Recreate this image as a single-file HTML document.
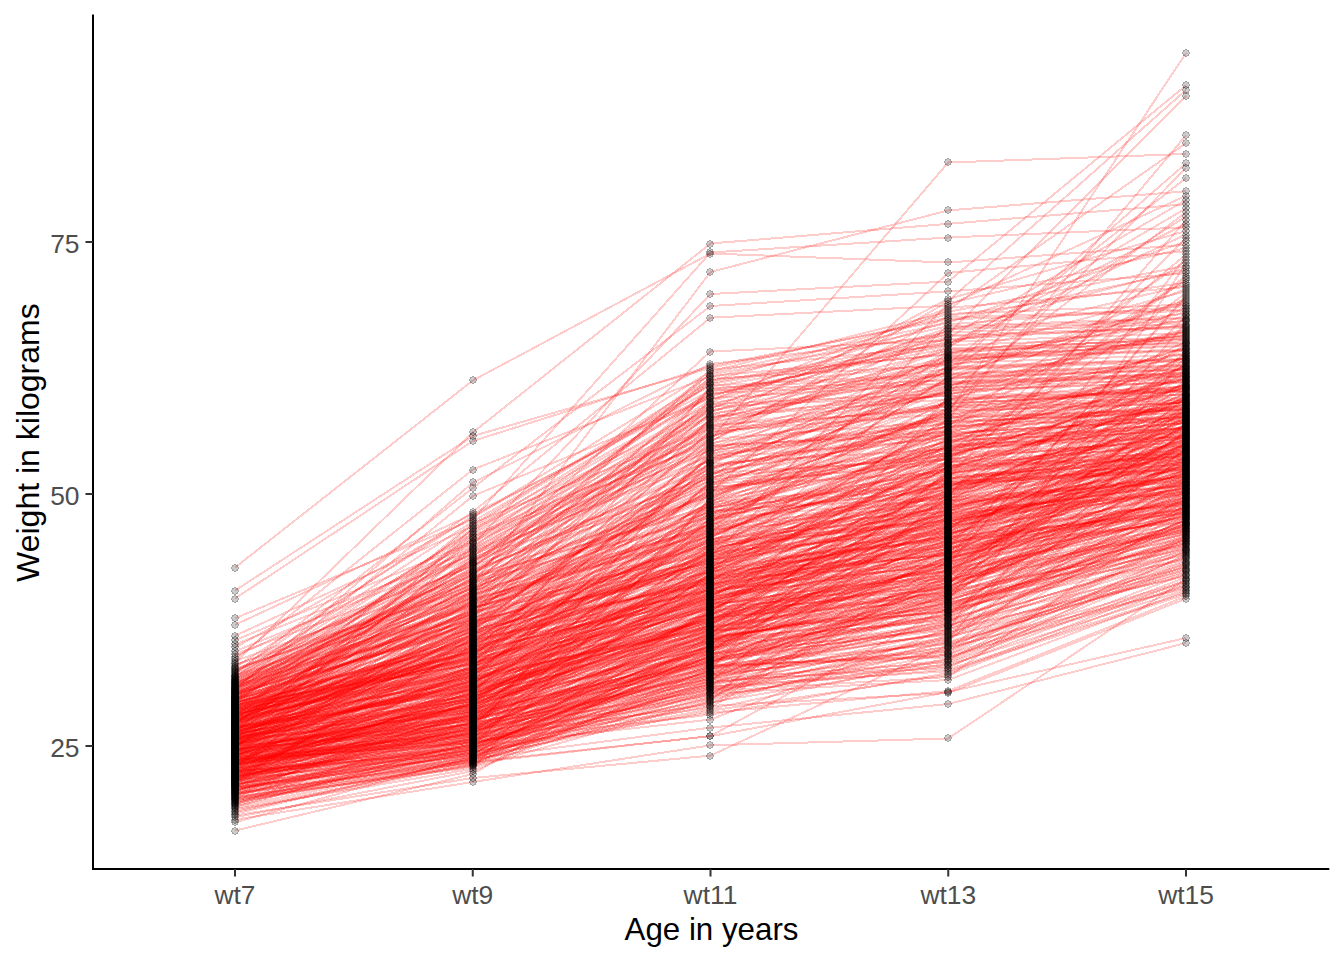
<!DOCTYPE html>
<html><head><meta charset="utf-8"><style>
html,body{margin:0;padding:0;background:#fff;width:1344px;height:960px;overflow:hidden}
svg{display:block}
circle{r:3.5px}
text{font-family:"Liberation Sans",sans-serif}
</style></head><body>
<svg width="1344" height="960" viewBox="0 0 1344 960">
<rect width="1344" height="960" fill="#fff"/>
<g><g fill="none" stroke="#ff0000" stroke-opacity="0.2" stroke-width="2.0" shape-rendering="crispEdges"><polyline points="235.0,792.7 472.8,761.8 710.5,736.2 948.2,692.0 1186.0,638.0"/><polyline points="235.0,783.0 472.8,685.5 710.5,632.5 948.2,524.2 1186.0,396.0"/><polyline points="235.0,772.7 472.8,749.8 710.5,698.9 948.2,574.0 1186.0,433.4"/><polyline points="235.0,745.3 472.8,640.3 710.5,591.5 948.2,534.2 1186.0,465.5"/><polyline points="235.0,790.8 472.8,738.8 710.5,664.8 948.2,644.1 1186.0,571.2"/><polyline points="235.0,765.9 472.8,639.0 710.5,555.7 948.2,500.7 1186.0,480.3"/><polyline points="235.0,766.1 472.8,683.1 710.5,572.1 948.2,529.0 1186.0,439.1"/><polyline points="235.0,712.7 472.8,642.4 710.5,577.0 948.2,547.2 1186.0,316.3"/><polyline points="235.0,701.3 472.8,559.6 710.5,477.9 948.2,401.0 1186.0,314.9"/><polyline points="235.0,731.2 472.8,689.9 710.5,533.0 948.2,451.5 1186.0,422.8"/><polyline points="235.0,745.5 472.8,657.8 710.5,615.0 948.2,575.5 1186.0,475.3"/><polyline points="235.0,665.9 472.8,565.4 710.5,481.6 948.2,425.9 1186.0,260.3"/><polyline points="235.0,760.2 472.8,743.1 710.5,696.0 948.2,661.0 1186.0,550.4"/><polyline points="235.0,762.2 472.8,708.5 710.5,617.9 948.2,595.5 1186.0,513.9"/><polyline points="235.0,692.7 472.8,568.1 710.5,351.5 948.2,340.5 1186.0,313.6"/><polyline points="235.0,706.2 472.8,642.0 710.5,467.4 948.2,426.6 1186.0,418.3"/><polyline points="235.0,746.7 472.8,674.4 710.5,608.8 948.2,466.6 1186.0,416.7"/><polyline points="235.0,762.6 472.8,704.0 710.5,480.7 948.2,379.5 1186.0,289.1"/><polyline points="235.0,802.3 472.8,743.5 710.5,611.3 948.2,466.0 1186.0,457.7"/><polyline points="235.0,694.6 472.8,614.6 710.5,486.9 948.2,472.0 1186.0,398.4"/><polyline points="235.0,791.2 472.8,713.9 710.5,523.3 948.2,410.7 1186.0,402.7"/><polyline points="235.0,748.0 472.8,714.2 710.5,605.8 948.2,503.2 1186.0,476.9"/><polyline points="235.0,716.6 472.8,636.9 710.5,564.2 948.2,513.6 1186.0,493.9"/><polyline points="235.0,678.6 472.8,576.5 710.5,373.0 948.2,322.9 1186.0,241.4"/><polyline points="235.0,689.0 472.8,569.0 710.5,449.4 948.2,391.8 1186.0,330.1"/><polyline points="235.0,740.4 472.8,692.8 710.5,632.9 948.2,594.9 1186.0,458.6"/><polyline points="235.0,684.8 472.8,603.9 710.5,524.0 948.2,477.9 1186.0,464.7"/><polyline points="235.0,715.2 472.8,621.1 710.5,562.7 948.2,504.2 1186.0,429.7"/><polyline points="235.0,764.1 472.8,734.6 710.5,685.2 948.2,592.7 1186.0,486.8"/><polyline points="235.0,725.5 472.8,649.9 710.5,598.2 948.2,452.1 1186.0,427.3"/><polyline points="235.0,714.5 472.8,662.0 710.5,465.5 948.2,431.0 1186.0,401.7"/><polyline points="235.0,696.1 472.8,602.8 710.5,531.2 948.2,467.7 1186.0,374.4"/><polyline points="235.0,712.2 472.8,669.0 710.5,609.2 948.2,580.8 1186.0,534.4"/><polyline points="235.0,792.3 472.8,757.1 710.5,710.7 948.2,674.9 1186.0,584.1"/><polyline points="235.0,795.3 472.8,699.9 710.5,549.9 948.2,493.1 1186.0,410.7"/><polyline points="235.0,678.0 472.8,562.6 710.5,380.2 948.2,353.7 1186.0,336.1"/><polyline points="235.0,755.2 472.8,705.0 710.5,621.3 948.2,580.3 1186.0,510.9"/><polyline points="235.0,740.2 472.8,545.6 710.5,415.9 948.2,395.2 1186.0,331.2"/><polyline points="235.0,715.9 472.8,650.3 710.5,573.0 948.2,356.6 1186.0,346.0"/><polyline points="235.0,802.9 472.8,761.3 710.5,645.7 948.2,603.5 1186.0,541.4"/><polyline points="235.0,753.0 472.8,708.8 710.5,569.8 948.2,495.6 1186.0,414.6"/><polyline points="235.0,659.1 472.8,469.6 710.5,376.0 948.2,354.7 1186.0,291.2"/><polyline points="235.0,724.8 472.8,583.2 710.5,393.1 948.2,383.0 1186.0,375.0"/><polyline points="235.0,735.9 472.8,678.3 710.5,549.4 948.2,494.6 1186.0,418.8"/><polyline points="235.0,744.9 472.8,661.6 710.5,598.7 948.2,501.7 1186.0,486.3"/><polyline points="235.0,776.7 472.8,728.8 710.5,661.3 948.2,596.1 1186.0,540.6"/><polyline points="235.0,695.8 472.8,614.1 710.5,505.3 948.2,402.7 1186.0,394.5"/><polyline points="235.0,778.7 472.8,737.5 710.5,671.6 948.2,625.5 1186.0,553.2"/><polyline points="235.0,758.6 472.8,733.3 710.5,670.5 948.2,584.0 1186.0,430.9"/><polyline points="235.0,754.4 472.8,735.6 710.5,587.2 948.2,437.2 1186.0,417.5"/><polyline points="235.0,765.2 472.8,696.7 710.5,631.2 948.2,611.7 1186.0,520.5"/><polyline points="235.0,740.6 472.8,677.6 710.5,627.5 948.2,597.3 1186.0,444.3"/><polyline points="235.0,746.8 472.8,711.4 710.5,662.3 948.2,613.9 1186.0,530.6"/><polyline points="235.0,781.4 472.8,727.8 710.5,634.9 948.2,569.3 1186.0,530.0"/><polyline points="235.0,711.7 472.8,616.2 710.5,491.3 948.2,437.9 1186.0,377.9"/><polyline points="235.0,756.1 472.8,710.1 710.5,615.4 948.2,594.4 1186.0,533.7"/><polyline points="235.0,737.9 472.8,608.8 710.5,526.0 948.2,400.2 1186.0,392.0"/><polyline points="235.0,759.8 472.8,734.9 710.5,686.5 948.2,671.2 1186.0,594.4"/><polyline points="235.0,730.4 472.8,663.8 710.5,597.4 948.2,562.7 1186.0,497.6"/><polyline points="235.0,754.0 472.8,693.8 710.5,640.7 948.2,560.1 1186.0,463.4"/><polyline points="235.0,765.7 472.8,733.6 710.5,444.2 948.2,370.5 1186.0,163.4"/><polyline points="235.0,773.7 472.8,754.0 710.5,709.0 948.2,658.6 1186.0,562.9"/><polyline points="235.0,723.8 472.8,654.6 710.5,540.9 948.2,479.5 1186.0,454.5"/><polyline points="235.0,717.5 472.8,524.7 710.5,378.8 948.2,365.0 1186.0,338.0"/><polyline points="235.0,688.3 472.8,620.7 710.5,546.6 948.2,442.6 1186.0,362.8"/><polyline points="235.0,762.4 472.8,669.4 710.5,605.4 948.2,528.5 1186.0,474.0"/><polyline points="235.0,766.6 472.8,695.7 710.5,618.8 948.2,565.2 1186.0,295.2"/><polyline points="235.0,680.7 472.8,571.6 710.5,426.0 948.2,364.1 1186.0,178.1"/><polyline points="235.0,709.6 472.8,648.2 710.5,553.1 948.2,480.1 1186.0,452.9"/><polyline points="235.0,732.8 472.8,699.6 710.5,653.7 948.2,629.2 1186.0,576.3"/><polyline points="235.0,720.6 472.8,656.2 710.5,557.8 948.2,525.2 1186.0,467.1"/><polyline points="235.0,683.9 472.8,578.8 710.5,404.2 948.2,393.5 1186.0,376.1"/><polyline points="235.0,713.4 472.8,670.8 710.5,609.6 948.2,499.7 1186.0,383.0"/><polyline points="235.0,747.2 472.8,675.5 710.5,597.8 948.2,543.8 1186.0,472.8"/><polyline points="235.0,757.5 472.8,622.6 710.5,569.3 948.2,546.7 1186.0,511.9"/><polyline points="235.0,742.1 472.8,705.9 710.5,583.0 948.2,502.2 1186.0,450.8"/><polyline points="235.0,772.5 472.8,665.3 710.5,601.6 948.2,535.6 1186.0,446.8"/><polyline points="235.0,808.0 472.8,764.0 710.5,650.1 948.2,518.9 1186.0,476.1"/><polyline points="235.0,762.8 472.8,692.5 710.5,454.5 948.2,382.2 1186.0,373.8"/><polyline points="235.0,654.3 472.8,566.3 710.5,424.9 948.2,409.9 1186.0,168.1"/><polyline points="235.0,782.5 472.8,637.7 710.5,534.9 948.2,446.5 1186.0,429.3"/><polyline points="235.0,807.0 472.8,740.8 710.5,689.4 948.2,669.5 1186.0,592.7"/><polyline points="235.0,737.2 472.8,627.8 710.5,562.2 948.2,483.7 1186.0,454.9"/><polyline points="235.0,755.6 472.8,679.3 710.5,622.9 948.2,581.9 1186.0,481.6"/><polyline points="235.0,741.5 472.8,626.0 710.5,542.1 948.2,500.2 1186.0,476.5"/><polyline points="235.0,675.5 472.8,598.7 710.5,533.7 948.2,462.1 1186.0,453.7"/><polyline points="235.0,780.9 472.8,687.5 710.5,625.4 948.2,576.6 1186.0,423.6"/><polyline points="235.0,718.8 472.8,668.7 710.5,386.8 948.2,346.3 1186.0,234.5"/><polyline points="235.0,733.9 472.8,704.7 710.5,526.7 948.2,473.1 1186.0,449.6"/><polyline points="235.0,719.3 472.8,577.2 710.5,508.4 948.2,452.7 1186.0,348.5"/><polyline points="235.0,770.9 472.8,722.9 710.5,679.0 948.2,662.3 1186.0,565.2"/><polyline points="235.0,763.7 472.8,710.4 710.5,639.4 948.2,599.1 1186.0,322.4"/><polyline points="235.0,647.5 472.8,517.8 710.5,371.4 948.2,311.9 1186.0,265.8"/><polyline points="235.0,773.2 472.8,691.8 710.5,627.1 948.2,591.6 1186.0,480.7"/><polyline points="235.0,750.6 472.8,691.5 710.5,613.8 948.2,544.8 1186.0,481.2"/><polyline points="235.0,787.1 472.8,750.2 710.5,665.8 948.2,655.1 1186.0,537.8"/><polyline points="235.0,691.4 472.8,549.1 710.5,423.8 948.2,362.2 1186.0,335.1"/><polyline points="235.0,812.1 472.8,758.7 710.5,727.6 948.2,704.0 1186.0,643.0"/><polyline points="235.0,743.0 472.8,676.5 710.5,483.4 948.2,417.6 1186.0,409.4"/><polyline points="235.0,676.2 472.8,546.8 710.5,391.9 948.2,348.5 1186.0,339.9"/><polyline points="235.0,748.2 472.8,693.5 710.5,603.7 948.2,587.2 1186.0,482.9"/><polyline points="235.0,763.0 472.8,744.5 710.5,678.4 948.2,637.0 1186.0,575.0"/><polyline points="235.0,737.8 472.8,684.8 710.5,595.3 948.2,578.2 1186.0,507.5"/><polyline points="235.0,822.3 472.8,756.7 710.5,656.0 948.2,615.4 1186.0,430.5"/><polyline points="235.0,700.0 472.8,567.2 710.5,405.4 948.2,336.6 1186.0,328.0"/><polyline points="235.0,703.4 472.8,639.9 710.5,575.2 948.2,538.0 1186.0,501.7"/><polyline points="235.0,710.1 472.8,659.3 710.5,547.2 948.2,520.9 1186.0,477.8"/><polyline points="235.0,693.4 472.8,629.7 710.5,584.3 948.2,534.6 1186.0,420.8"/><polyline points="235.0,739.3 472.8,690.8 710.5,622.1 948.2,530.4 1186.0,460.2"/><polyline points="235.0,717.3 472.8,681.8 710.5,567.5 948.2,454.5 1186.0,405.9"/><polyline points="235.0,789.1 472.8,755.1 710.5,697.9 948.2,653.9 1186.0,582.8"/><polyline points="235.0,769.0 472.8,713.3 710.5,665.3 948.2,656.2 1186.0,585.5"/><polyline points="235.0,759.4 472.8,734.3 710.5,638.2 948.2,601.5 1186.0,511.4"/><polyline points="235.0,724.4 472.8,540.6 710.5,429.3 948.2,406.7 1186.0,385.7"/><polyline points="235.0,813.7 472.8,758.3 710.5,640.3 948.2,582.9 1186.0,397.9"/><polyline points="235.0,751.4 472.8,700.5 710.5,561.3 948.2,488.4 1186.0,419.2"/><polyline points="235.0,815.4 472.8,778.0 710.5,755.6 948.2,645.2 1186.0,568.8"/><polyline points="235.0,715.0 472.8,523.1 710.5,428.2 948.2,358.5 1186.0,350.2"/><polyline points="235.0,728.8 472.8,667.6 710.5,552.6 948.2,509.7 1186.0,465.1"/><polyline points="235.0,754.6 472.8,700.2 710.5,625.8 948.2,473.7 1186.0,428.9"/><polyline points="235.0,756.3 472.8,715.5 710.5,575.7 948.2,536.1 1186.0,417.9"/><polyline points="235.0,755.4 472.8,680.4 710.5,568.9 948.2,510.6 1186.0,439.5"/><polyline points="235.0,724.0 472.8,555.6 710.5,438.9 948.2,421.4 1186.0,413.3"/><polyline points="235.0,699.7 472.8,622.1 710.5,557.3 948.2,506.7 1186.0,434.2"/><polyline points="235.0,758.8 472.8,732.3 710.5,573.9 948.2,460.4 1186.0,411.6"/><polyline points="235.0,744.0 472.8,698.0 710.5,647.9 948.2,618.6 1186.0,506.0"/><polyline points="235.0,765.4 472.8,609.9 710.5,478.8 948.2,387.4 1186.0,379.1"/><polyline points="235.0,720.8 472.8,665.0 710.5,520.0 948.2,425.1 1186.0,417.1"/><polyline points="235.0,727.3 472.8,696.1 710.5,634.5 948.2,550.6 1186.0,498.0"/><polyline points="235.0,734.5 472.8,625.5 710.5,462.5 948.2,385.7 1186.0,334.2"/><polyline points="235.0,697.8 472.8,624.5 710.5,540.3 948.2,458.0 1186.0,275.8"/><polyline points="235.0,766.3 472.8,696.4 710.5,606.7 948.2,443.9 1186.0,357.1"/><polyline points="235.0,774.6 472.8,722.0 710.5,613.4 948.2,588.3 1186.0,527.6"/><polyline points="235.0,754.2 472.8,704.4 710.5,647.5 948.2,553.6 1186.0,479.5"/><polyline points="235.0,751.0 472.8,720.0 710.5,667.4 948.2,470.4 1186.0,371.3"/><polyline points="235.0,748.6 472.8,728.4 710.5,674.4 948.2,649.5 1186.0,466.3"/><polyline points="235.0,714.8 472.8,658.5 710.5,602.5 948.2,508.7 1186.0,439.9"/><polyline points="235.0,797.7 472.8,752.1 710.5,706.0 948.2,693.0 1186.0,598.7"/><polyline points="235.0,759.0 472.8,736.9 710.5,644.0 948.2,511.1 1186.0,440.7"/><polyline points="235.0,780.7 472.8,748.4 710.5,652.8 948.2,606.8 1186.0,484.2"/><polyline points="235.0,786.8 472.8,757.9 710.5,670.0 948.2,572.9 1186.0,492.1"/><polyline points="235.0,742.4 472.8,634.7 710.5,554.7 948.2,450.8 1186.0,428.1"/><polyline points="235.0,708.4 472.8,635.1 710.5,510.6 948.2,497.1 1186.0,220.0"/><polyline points="235.0,769.5 472.8,723.3 710.5,551.0 948.2,481.1 1186.0,469.5"/><polyline points="235.0,739.6 472.8,717.5 710.5,668.9 948.2,621.1 1186.0,542.1"/><polyline points="235.0,674.1 472.8,488.0 710.5,306.0 948.2,291.4 1186.0,273.4"/><polyline points="235.0,679.7 472.8,530.9 710.5,384.2 948.2,342.9 1186.0,284.9"/><polyline points="235.0,618.3 472.8,519.6 710.5,252.5 948.2,237.5 1186.0,227.4"/><polyline points="235.0,697.3 472.8,574.9 710.5,377.5 948.2,326.2 1186.0,317.6"/><polyline points="235.0,777.5 472.8,747.3 710.5,687.2 948.2,659.8 1186.0,538.5"/><polyline points="235.0,708.1 472.8,653.9 710.5,470.3 948.2,367.7 1186.0,359.3"/><polyline points="235.0,747.4 472.8,718.4 710.5,661.8 948.2,626.4 1186.0,552.3"/><polyline points="235.0,809.2 472.8,768.8 710.5,498.0 948.2,420.7 1186.0,412.5"/><polyline points="235.0,777.2 472.8,730.7 710.5,580.4 948.2,456.3 1186.0,386.8"/><polyline points="235.0,730.2 472.8,688.9 710.5,543.2 948.2,453.9 1186.0,254.4"/><polyline points="235.0,718.1 472.8,602.2 710.5,511.4 948.2,474.2 1186.0,433.8"/><polyline points="235.0,736.0 472.8,701.2 710.5,601.2 948.2,537.5 1186.0,470.7"/><polyline points="235.0,720.4 472.8,627.4 710.5,527.3 948.2,497.7 1186.0,482.4"/><polyline points="235.0,765.0 472.8,730.1 710.5,681.3 948.2,496.6 1186.0,393.5"/><polyline points="235.0,754.8 472.8,726.8 710.5,648.8 948.2,551.6 1186.0,411.2"/><polyline points="235.0,756.7 472.8,739.8 710.5,641.9 948.2,620.2 1186.0,537.1"/><polyline points="235.0,705.9 472.8,641.6 710.5,531.8 948.2,376.8 1186.0,368.8"/><polyline points="235.0,698.7 472.8,648.7 710.5,566.1 948.2,477.4 1186.0,459.8"/><polyline points="235.0,700.8 472.8,601.0 710.5,401.8 948.2,330.9 1186.0,268.4"/><polyline points="235.0,786.5 472.8,755.5 710.5,697.0 948.2,600.3 1186.0,524.8"/><polyline points="235.0,735.5 472.8,548.0 710.5,421.5 948.2,386.6 1186.0,299.1"/><polyline points="235.0,778.4 472.8,647.0 710.5,582.1 948.2,529.4 1186.0,363.5"/><polyline points="235.0,778.9 472.8,732.0 710.5,674.9 948.2,622.8 1186.0,557.3"/><polyline points="235.0,769.7 472.8,726.2 710.5,502.9 948.2,365.9 1186.0,312.2"/><polyline points="235.0,769.9 472.8,720.4 710.5,651.9 948.2,516.0 1186.0,483.7"/><polyline points="235.0,789.8 472.8,738.2 710.5,704.7 948.2,560.6 1186.0,257.4"/><polyline points="235.0,780.2 472.8,645.8 710.5,535.5 948.2,494.1 1186.0,399.8"/><polyline points="235.0,746.1 472.8,639.5 710.5,590.2 948.2,501.2 1186.0,425.7"/><polyline points="235.0,744.5 472.8,712.3 710.5,657.5 948.2,602.2 1186.0,555.2"/><polyline points="235.0,709.4 472.8,659.7 710.5,509.9 948.2,436.6 1186.0,428.5"/><polyline points="235.0,673.3 472.8,533.8 710.5,411.3 948.2,357.5 1186.0,349.4"/><polyline points="235.0,774.1 472.8,736.6 710.5,610.0 948.2,508.2 1186.0,455.7"/><polyline points="235.0,744.3 472.8,705.3 710.5,635.7 948.2,571.9 1186.0,521.5"/><polyline points="235.0,709.8 472.8,611.0 710.5,471.3 948.2,435.9 1186.0,401.3"/><polyline points="235.0,794.4 472.8,760.4 710.5,702.2 948.2,663.6 1186.0,573.7"/><polyline points="235.0,798.7 472.8,767.4 710.5,701.1 948.2,492.6 1186.0,364.2"/><polyline points="235.0,738.3 472.8,697.0 710.5,635.3 948.2,563.2 1186.0,474.9"/><polyline points="235.0,705.7 472.8,653.1 710.5,539.1 948.2,515.5 1186.0,444.8"/><polyline points="235.0,677.4 472.8,553.5 710.5,431.4 948.2,413.8 1186.0,381.3"/><polyline points="235.0,693.1 472.8,596.3 710.5,493.8 948.2,411.4 1186.0,403.1"/><polyline points="235.0,801.0 472.8,759.2 710.5,677.8 948.2,590.5 1186.0,546.1"/><polyline points="235.0,729.2 472.8,644.5 710.5,558.3 948.2,487.9 1186.0,372.5"/><polyline points="235.0,697.0 472.8,595.1 710.5,422.6 948.2,299.0 1186.0,231.0"/><polyline points="235.0,763.5 472.8,729.1 710.5,684.5 948.2,639.0 1186.0,500.3"/><polyline points="235.0,743.4 472.8,719.1 710.5,659.9 948.2,635.0 1186.0,522.6"/><polyline points="235.0,789.4 472.8,745.5 710.5,644.5 948.2,488.9 1186.0,459.4"/><polyline points="235.0,744.2 472.8,700.9 710.5,614.6 948.2,517.5 1186.0,482.0"/><polyline points="235.0,716.4 472.8,671.9 710.5,522.0 948.2,447.1 1186.0,437.0"/><polyline points="235.0,769.3 472.8,694.8 710.5,593.6 948.2,572.4 1186.0,531.8"/><polyline points="235.0,766.8 472.8,629.2 710.5,488.7 948.2,389.2 1186.0,329.1"/><polyline points="235.0,771.3 472.8,750.9 710.5,643.6 948.2,582.4 1186.0,527.0"/><polyline points="235.0,740.0 472.8,636.0 710.5,541.5 948.2,512.1 1186.0,408.1"/><polyline points="235.0,794.0 472.8,762.3 710.5,680.1 948.2,605.4 1186.0,547.8"/><polyline points="235.0,736.4 472.8,709.8 710.5,629.6 948.2,586.7 1186.0,499.4"/><polyline points="235.0,745.7 472.8,727.5 710.5,673.8 948.2,619.4 1186.0,546.9"/><polyline points="235.0,696.7 472.8,535.3 710.5,435.7 948.2,392.6 1186.0,212.2"/><polyline points="235.0,707.2 472.8,590.7 710.5,528.0 948.2,377.7 1186.0,369.4"/><polyline points="235.0,669.5 472.8,586.0 710.5,369.7 948.2,345.2 1186.0,337.1"/><polyline points="235.0,685.6 472.8,544.4 710.5,294.0 948.2,281.5 1186.0,85.3"/><polyline points="235.0,782.0 472.8,667.2 710.5,564.7 948.2,514.1 1186.0,452.1"/><polyline points="235.0,757.7 472.8,719.4 710.5,662.8 948.2,562.2 1186.0,517.9"/><polyline points="235.0,687.2 472.8,529.5 710.5,408.9 948.2,309.9 1186.0,143.1"/><polyline points="235.0,761.1 472.8,741.8 710.5,632.0 948.2,539.9 1186.0,494.4"/><polyline points="235.0,768.1 472.8,742.5 710.5,707.4 948.2,568.3 1186.0,490.3"/><polyline points="235.0,763.3 472.8,724.9 710.5,669.5 948.2,633.0 1186.0,518.4"/><polyline points="235.0,775.3 472.8,739.5 710.5,692.6 948.2,593.8 1186.0,407.7"/><polyline points="235.0,759.6 472.8,742.8 710.5,548.8 948.2,424.4 1186.0,346.9"/><polyline points="235.0,736.2 472.8,666.8 710.5,556.8 948.2,324.5 1186.0,306.2"/><polyline points="235.0,661.1 472.8,575.7 710.5,496.4 948.2,413.0 1186.0,53.1"/><polyline points="235.0,672.4 472.8,512.0 710.5,317.7 948.2,305.7 1186.0,195.7"/><polyline points="235.0,731.6 472.8,675.1 710.5,482.5 948.2,453.3 1186.0,442.7"/><polyline points="235.0,598.6 472.8,441.0 710.5,366.0 948.2,319.4 1186.0,310.8"/><polyline points="235.0,739.1 472.8,686.9 710.5,593.2 948.2,518.0 1186.0,489.0"/><polyline points="235.0,722.7 472.8,656.6 710.5,586.4 948.2,522.3 1186.0,469.1"/><polyline points="235.0,756.5 472.8,714.6 710.5,651.4 948.2,558.6 1186.0,495.7"/><polyline points="235.0,724.6 472.8,628.3 710.5,583.4 948.2,549.2 1186.0,435.4"/><polyline points="235.0,726.3 472.8,677.2 710.5,614.2 948.2,568.8 1186.0,478.6"/><polyline points="235.0,784.7 472.8,749.5 710.5,648.3 948.2,602.8 1186.0,542.9"/><polyline points="235.0,771.8 472.8,697.4 710.5,602.9 948.2,575.0 1186.0,514.9"/><polyline points="235.0,635.8 472.8,526.3 710.5,381.5 948.2,313.9 1186.0,304.5"/><polyline points="235.0,746.3 472.8,721.3 710.5,576.1 948.2,555.1 1186.0,435.0"/><polyline points="235.0,804.4 472.8,721.6 710.5,650.6 948.2,608.8 1186.0,525.9"/><polyline points="235.0,764.8 472.8,736.2 710.5,695.1 948.2,546.2 1186.0,424.0"/><polyline points="235.0,767.9 472.8,718.7 710.5,634.1 948.2,547.7 1186.0,522.1"/><polyline points="235.0,729.8 472.8,678.6 710.5,530.5 948.2,440.6 1186.0,407.2"/><polyline points="235.0,726.1 472.8,689.5 710.5,637.8 948.2,504.7 1186.0,478.2"/><polyline points="235.0,696.4 472.8,610.4 710.5,420.4 948.2,361.3 1186.0,340.8"/><polyline points="235.0,746.5 472.8,673.4 710.5,620.0 948.2,509.2 1186.0,424.9"/><polyline points="235.0,725.9 472.8,596.9 710.5,497.2 948.2,412.2 1186.0,307.7"/><polyline points="235.0,726.5 472.8,662.7 710.5,580.8 948.2,484.8 1186.0,464.2"/><polyline points="235.0,692.1 472.8,615.1 710.5,490.4 948.2,455.1 1186.0,445.6"/><polyline points="235.0,695.5 472.8,564.4 710.5,446.3 948.2,431.7 1186.0,388.4"/><polyline points="235.0,798.2 472.8,757.5 710.5,688.7 948.2,666.4 1186.0,577.5"/><polyline points="235.0,690.1 472.8,592.6 710.5,472.3 948.2,434.5 1186.0,416.3"/><polyline points="235.0,751.8 472.8,612.0 710.5,550.5 948.2,517.0 1186.0,467.9"/><polyline points="235.0,702.9 472.8,631.5 710.5,548.3 948.2,506.2 1186.0,468.7"/><polyline points="235.0,767.4 472.8,694.1 710.5,461.5 948.2,390.9 1186.0,382.4"/><polyline points="235.0,760.7 472.8,731.7 710.5,623.3 948.2,542.8 1186.0,426.1"/><polyline points="235.0,731.4 472.8,673.0 710.5,588.9 948.2,571.4 1186.0,424.4"/><polyline points="235.0,740.8 472.8,606.7 710.5,509.1 948.2,409.1 1186.0,400.8"/><polyline points="235.0,801.6 472.8,763.4 710.5,682.6 948.2,631.1 1186.0,263.1"/><polyline points="235.0,752.6 472.8,693.1 710.5,623.8 948.2,492.0 1186.0,344.3"/><polyline points="235.0,772.0 472.8,725.2 710.5,517.9 948.2,468.2 1186.0,398.9"/><polyline points="235.0,706.4 472.8,605.0 710.5,524.7 948.2,439.3 1186.0,413.7"/><polyline points="235.0,736.6 472.8,706.3 710.5,568.0 948.2,479.0 1186.0,447.6"/><polyline points="235.0,735.7 472.8,672.3 710.5,512.9 948.2,445.2 1186.0,422.4"/><polyline points="235.0,799.2 472.8,756.3 710.5,683.9 948.2,581.3 1186.0,539.2"/><polyline points="235.0,778.2 472.8,684.2 710.5,538.5 948.2,507.7 1186.0,454.1"/><polyline points="235.0,702.1 472.8,638.2 710.5,534.3 948.2,485.3 1186.0,435.8"/><polyline points="235.0,711.0 472.8,617.2 710.5,542.7 948.2,520.4 1186.0,456.9"/><polyline points="235.0,715.5 472.8,653.5 710.5,518.6 948.2,498.7 1186.0,415.4"/><polyline points="235.0,748.4 472.8,558.7 710.5,447.3 948.2,375.0 1186.0,366.8"/><polyline points="235.0,737.6 472.8,681.1 710.5,599.5 948.2,561.1 1186.0,509.4"/><polyline points="235.0,704.4 472.8,587.4 710.5,494.7 948.2,415.3 1186.0,380.2"/><polyline points="235.0,733.5 472.8,699.0 710.5,521.3 948.2,408.3 1186.0,386.3"/><polyline points="235.0,702.4 472.8,642.9 710.5,577.4 948.2,532.3 1186.0,483.3"/><polyline points="235.0,745.1 472.8,633.3 710.5,560.8 948.2,464.4 1186.0,403.6"/><polyline points="235.0,750.2 472.8,703.1 710.5,624.6 948.2,566.2 1186.0,451.2"/><polyline points="235.0,755.0 472.8,707.9 710.5,604.6 948.2,514.6 1186.0,441.9"/><polyline points="235.0,706.7 472.8,660.4 710.5,585.1 948.2,518.5 1186.0,471.6"/><polyline points="235.0,700.5 472.8,625.0 710.5,567.0 948.2,537.0 1186.0,453.3"/><polyline points="235.0,752.0 472.8,705.6 710.5,591.9 948.2,559.1 1186.0,497.1"/><polyline points="235.0,567.6 472.8,380.5 710.5,253.5 948.2,262.5 1186.0,244.8"/><polyline points="235.0,737.4 472.8,707.5 710.5,660.8 948.2,610.2 1186.0,551.4"/><polyline points="235.0,714.1 472.8,675.8 710.5,628.7 948.2,510.2 1186.0,493.0"/><polyline points="235.0,732.6 472.8,669.7 710.5,442.1 948.2,301.2 1186.0,90.0"/><polyline points="235.0,782.8 472.8,702.4 710.5,555.2 948.2,527.1 1186.0,419.6"/><polyline points="235.0,810.6 472.8,764.7 710.5,655.1 948.2,604.8 1186.0,543.7"/><polyline points="235.0,740.9 472.8,689.2 710.5,612.5 948.2,476.3 1186.0,431.3"/><polyline points="235.0,624.9 472.8,514.0 710.5,394.4 948.2,344.1 1186.0,223.7"/><polyline points="235.0,750.8 472.8,707.2 710.5,615.9 948.2,495.1 1186.0,455.3"/><polyline points="235.0,742.3 472.8,698.3 710.5,641.5 948.2,589.9 1186.0,397.0"/><polyline points="235.0,779.7 472.8,751.3 710.5,676.6 948.2,525.6 1186.0,458.2"/><polyline points="235.0,704.7 472.8,616.7 710.5,412.4 948.2,327.8 1186.0,318.8"/><polyline points="235.0,755.8 472.8,680.7 710.5,620.4 948.2,558.1 1186.0,518.9"/><polyline points="235.0,749.2 472.8,666.1 710.5,522.7 948.2,352.7 1186.0,324.7"/><polyline points="235.0,709.1 472.8,667.9 710.5,599.9 948.2,529.9 1186.0,380.8"/><polyline points="235.0,779.2 472.8,709.5 710.5,641.1 948.2,592.1 1186.0,544.5"/><polyline points="235.0,729.0 472.8,631.1 710.5,437.9 948.2,315.8 1186.0,282.7"/><polyline points="235.0,784.1 472.8,713.0 710.5,642.8 948.2,609.5 1186.0,559.5"/><polyline points="235.0,719.5 472.8,632.4 710.5,563.7 948.2,540.4 1186.0,395.5"/><polyline points="235.0,698.9 472.8,582.5 710.5,517.2 948.2,422.2 1186.0,368.1"/><polyline points="235.0,776.0 472.8,737.2 710.5,657.0 948.2,624.6 1186.0,567.6"/><polyline points="235.0,745.9 472.8,716.5 710.5,587.7 948.2,496.1 1186.0,436.6"/><polyline points="235.0,687.5 472.8,605.6 710.5,407.7 948.2,350.6 1186.0,342.6"/><polyline points="235.0,803.7 472.8,749.1 710.5,653.3 948.2,614.6 1186.0,441.5"/><polyline points="235.0,742.8 472.8,646.6 710.5,556.2 948.2,491.5 1186.0,447.2"/><polyline points="235.0,738.1 472.8,683.5 710.5,602.0 948.2,541.4 1186.0,508.4"/><polyline points="235.0,721.2 472.8,662.3 710.5,607.5 948.2,548.2 1186.0,489.9"/><polyline points="235.0,720.1 472.8,682.4 710.5,558.8 948.2,444.5 1186.0,436.2"/><polyline points="235.0,783.6 472.8,755.9 710.5,655.6 948.2,505.7 1186.0,475.7"/><polyline points="235.0,796.2 472.8,731.0 710.5,666.9 948.2,634.0 1186.0,548.7"/><polyline points="235.0,708.9 472.8,598.1 710.5,495.5 948.2,433.8 1186.0,360.7"/><polyline points="235.0,772.2 472.8,745.2 710.5,667.9 948.2,651.7 1186.0,504.6"/><polyline points="235.0,786.2 472.8,716.8 710.5,654.6 948.2,617.8 1186.0,498.9"/><polyline points="235.0,710.6 472.8,578.0 710.5,506.1 948.2,449.6 1186.0,404.0"/><polyline points="235.0,764.6 472.8,728.1 710.5,639.9 948.2,616.2 1186.0,520.0"/><polyline points="235.0,710.8 472.8,663.1 710.5,588.1 948.2,565.7 1186.0,495.3"/><polyline points="235.0,737.0 472.8,630.1 710.5,474.2 948.2,414.6 1186.0,394.0"/><polyline points="235.0,741.1 472.8,694.4 710.5,604.1 948.2,578.7 1186.0,529.4"/><polyline points="235.0,719.7 472.8,663.5 710.5,583.8 948.2,553.1 1186.0,501.3"/><polyline points="235.0,777.0 472.8,744.9 710.5,694.2 948.2,636.0 1186.0,560.6"/><polyline points="235.0,757.1 472.8,701.8 710.5,647.0 948.2,557.6 1186.0,507.0"/><polyline points="235.0,703.7 472.8,619.2 710.5,551.5 948.2,469.9 1186.0,395.0"/><polyline points="235.0,747.0 472.8,590.0 710.5,477.0 948.2,455.7 1186.0,387.3"/><polyline points="235.0,681.7 472.8,591.3 710.5,499.7 948.2,369.6 1186.0,361.4"/><polyline points="235.0,761.5 472.8,737.9 710.5,573.4 948.2,536.6 1186.0,513.4"/><polyline points="235.0,711.3 472.8,672.6 710.5,589.4 948.2,528.0 1186.0,465.9"/><polyline points="235.0,830.6 472.8,774.0 710.5,636.2 948.2,610.9 1186.0,498.5"/><polyline points="235.0,671.5 472.8,556.6 710.5,382.8 948.2,339.2 1186.0,325.8"/><polyline points="235.0,747.6 472.8,527.9 710.5,395.6 948.2,341.7 1186.0,333.2"/><polyline points="235.0,722.5 472.8,655.4 710.5,596.1 948.2,475.3 1186.0,383.6"/><polyline points="235.0,806.1 472.8,760.9 710.5,700.0 948.2,648.4 1186.0,581.5"/><polyline points="235.0,684.3 472.8,584.6 710.5,272.0 948.2,210.4 1186.0,191.3"/><polyline points="235.0,725.3 472.8,626.9 710.5,458.5 948.2,438.6 1186.0,378.5"/><polyline points="235.0,697.5 472.8,626.4 710.5,389.3 948.2,363.1 1186.0,354.9"/><polyline points="235.0,767.2 472.8,599.3 710.5,536.1 948.2,439.9 1186.0,431.8"/><polyline points="235.0,716.8 472.8,621.6 710.5,565.6 948.2,515.1 1186.0,484.6"/><polyline points="235.0,667.2 472.8,516.0 710.5,390.6 948.2,380.4 1186.0,332.2"/><polyline points="235.0,713.8 472.8,654.2 710.5,515.7 948.2,458.6 1186.0,438.7"/><polyline points="235.0,788.1 472.8,752.4 710.5,658.9 948.2,622.0 1186.0,535.0"/><polyline points="235.0,683.5 472.8,588.0 710.5,504.5 948.2,484.3 1186.0,470.3"/><polyline points="235.0,800.4 472.8,751.7 710.5,712.6 948.2,691.0 1186.0,596.4"/><polyline points="235.0,690.8 472.8,574.1 710.5,410.1 948.2,378.6 1186.0,370.0"/><polyline points="235.0,733.3 472.8,624.1 710.5,571.6 948.2,527.5 1186.0,445.2"/><polyline points="235.0,716.1 472.8,677.9 710.5,626.7 948.2,551.1 1186.0,503.6"/><polyline points="235.0,729.6 472.8,688.2 710.5,625.0 948.2,513.1 1186.0,485.0"/><polyline points="235.0,735.3 472.8,634.2 710.5,581.7 948.2,512.6 1186.0,463.0"/><polyline points="235.0,712.0 472.8,652.7 710.5,592.7 948.2,544.3 1186.0,492.5"/><polyline points="235.0,722.1 472.8,644.1 710.5,580.0 948.2,530.9 1186.0,471.2"/><polyline points="235.0,799.8 472.8,766.3 710.5,691.0 948.2,677.0 1186.0,506.5"/><polyline points="235.0,739.5 472.8,712.6 710.5,639.0 948.2,598.5 1186.0,549.5"/><polyline points="235.0,731.8 472.8,592.0 710.5,413.6 948.2,384.8 1186.0,376.7"/><polyline points="235.0,785.6 472.8,732.6 710.5,646.2 948.2,535.1 1186.0,448.8"/><polyline points="235.0,753.4 472.8,720.7 710.5,663.3 948.2,556.6 1186.0,516.4"/><polyline points="235.0,751.2 472.8,641.2 710.5,578.3 948.2,554.6 1186.0,443.1"/><polyline points="235.0,727.5 472.8,671.6 710.5,519.3 948.2,464.9 1186.0,456.5"/><polyline points="235.0,682.1 472.8,579.5 710.5,434.7 948.2,388.3 1186.0,371.9"/><polyline points="235.0,728.1 472.8,685.8 710.5,452.5 948.2,355.6 1186.0,345.2"/><polyline points="235.0,719.0 472.8,557.7 710.5,455.5 948.2,427.3 1186.0,409.0"/><polyline points="235.0,702.6 472.8,651.9 710.5,595.7 948.2,499.2 1186.0,421.2"/><polyline points="235.0,707.7 472.8,658.1 710.5,571.2 948.2,555.6 1186.0,485.9"/><polyline points="235.0,758.1 472.8,719.7 710.5,631.6 948.2,586.1 1186.0,504.1"/><polyline points="235.0,686.4 472.8,607.2 710.5,560.3 948.2,493.6 1186.0,396.5"/><polyline points="235.0,705.2 472.8,647.4 710.5,589.8 948.2,467.1 1186.0,459.0"/><polyline points="235.0,788.4 472.8,722.3 710.5,492.1 948.2,447.7 1186.0,405.0"/><polyline points="235.0,757.3 472.8,729.7 710.5,656.5 948.2,556.1 1186.0,507.9"/><polyline points="235.0,777.7 472.8,725.8 710.5,679.5 948.2,577.1 1186.0,502.2"/><polyline points="235.0,694.9 472.8,613.6 710.5,440.0 948.2,162.5 1186.0,154.0"/><polyline points="235.0,734.1 472.8,686.5 710.5,605.0 948.2,570.9 1186.0,405.4"/><polyline points="235.0,705.4 472.8,640.8 710.5,489.6 948.2,450.2 1186.0,341.7"/><polyline points="235.0,711.5 472.8,632.0 710.5,537.9 948.2,430.2 1186.0,385.2"/><polyline points="235.0,781.7 472.8,745.9 710.5,628.3 948.2,576.1 1186.0,532.5"/><polyline points="235.0,640.2 472.8,541.9 710.5,441.1 948.2,329.4 1186.0,321.3"/><polyline points="235.0,682.6 472.8,606.1 710.5,553.7 948.2,523.7 1186.0,473.6"/><polyline points="235.0,770.4 472.8,717.1 710.5,633.7 948.2,460.9 1186.0,278.2"/><polyline points="235.0,785.3 472.8,713.6 710.5,657.9 948.2,630.2 1186.0,519.4"/><polyline points="235.0,761.7 472.8,649.5 710.5,457.5 948.2,419.1 1186.0,135.3"/><polyline points="235.0,708.6 472.8,652.3 710.5,430.4 948.2,347.4 1186.0,208.3"/><polyline points="235.0,701.1 472.8,611.5 710.5,563.2 948.2,505.2 1186.0,412.9"/><polyline points="235.0,742.6 472.8,701.5 710.5,565.1 948.2,418.4 1186.0,410.3"/><polyline points="235.0,775.1 472.8,711.7 710.5,636.6 948.2,604.1 1186.0,528.8"/><polyline points="235.0,758.3 472.8,712.0 710.5,596.6 948.2,486.4 1186.0,412.0"/><polyline points="235.0,730.0 472.8,620.2 710.5,572.5 948.2,490.0 1186.0,467.5"/><polyline points="235.0,736.8 472.8,657.0 710.5,456.5 948.2,416.1 1186.0,402.2"/><polyline points="235.0,694.3 472.8,600.5 710.5,525.3 948.2,475.8 1186.0,461.8"/><polyline points="235.0,763.9 472.8,718.1 710.5,619.6 948.2,543.3 1186.0,508.9"/><polyline points="235.0,772.9 472.8,729.4 710.5,637.0 948.2,539.0 1186.0,473.2"/><polyline points="235.0,721.0 472.8,636.4 710.5,502.1 948.2,483.2 1186.0,472.0"/><polyline points="235.0,717.9 472.8,651.1 710.5,559.3 948.2,533.2 1186.0,487.2"/><polyline points="235.0,790.1 472.8,741.5 710.5,714.7 948.2,673.0 1186.0,580.1"/><polyline points="235.0,779.4 472.8,753.2 710.5,693.4 948.2,680.0 1186.0,591.1"/><polyline points="235.0,681.2 472.8,573.2 710.5,464.5 948.2,359.4 1186.0,351.0"/><polyline points="235.0,726.7 472.8,676.2 710.5,503.7 948.2,441.3 1186.0,423.2"/><polyline points="235.0,695.2 472.8,594.5 710.5,529.2 948.2,502.7 1186.0,353.3"/><polyline points="235.0,738.7 472.8,699.3 710.5,637.4 948.2,606.1 1186.0,533.1"/><polyline points="235.0,792.0 472.8,744.2 710.5,683.2 948.2,652.8 1186.0,535.7"/><polyline points="235.0,796.7 472.8,762.9 710.5,736.0 948.2,607.4 1186.0,539.9"/><polyline points="235.0,698.4 472.8,646.2 710.5,516.5 948.2,487.4 1186.0,389.9"/><polyline points="235.0,717.7 472.8,673.7 710.5,599.1 948.2,540.9 1186.0,512.4"/><polyline points="235.0,743.8 472.8,724.2 710.5,672.7 948.2,579.2 1186.0,524.2"/><polyline points="235.0,768.3 472.8,692.2 710.5,630.0 948.2,608.1 1186.0,528.2"/><polyline points="235.0,768.6 472.8,702.8 710.5,630.4 948.2,545.3 1186.0,469.9"/><polyline points="235.0,730.8 472.8,538.0 710.5,403.0 948.2,368.7 1186.0,360.0"/><polyline points="235.0,768.8 472.8,670.5 710.5,584.7 948.2,552.1 1186.0,521.0"/><polyline points="235.0,743.2 472.8,695.1 710.5,616.7 948.2,397.7 1186.0,389.4"/><polyline points="235.0,753.8 472.8,618.2 710.5,539.7 948.2,485.8 1186.0,466.7"/><polyline points="235.0,753.2 472.8,717.8 710.5,610.8 948.2,482.7 1186.0,462.6"/><polyline points="235.0,791.6 472.8,710.7 710.5,547.7 948.2,303.5 1186.0,248.1"/><polyline points="235.0,760.5 472.8,715.9 710.5,649.7 948.2,559.6 1186.0,461.0"/><polyline points="235.0,690.4 472.8,539.3 710.5,414.7 948.2,360.3 1186.0,320.0"/><polyline points="235.0,787.8 472.8,760.0 710.5,607.9 948.2,533.7 1186.0,503.2"/><polyline points="235.0,692.4 472.8,628.8 710.5,451.4 948.2,403.5 1186.0,391.5"/><polyline points="235.0,699.2 472.8,603.3 710.5,419.3 948.2,337.9 1186.0,200.0"/><polyline points="235.0,782.2 472.8,750.6 710.5,646.6 948.2,617.0 1186.0,456.1"/><polyline points="235.0,793.1 472.8,748.7 710.5,611.7 948.2,574.5 1186.0,515.4"/><polyline points="235.0,760.9 472.8,688.5 710.5,630.8 948.2,612.4 1186.0,545.3"/><polyline points="235.0,718.4 472.8,613.1 710.5,476.1 948.2,351.7 1186.0,343.4"/><polyline points="235.0,747.8 472.8,643.7 710.5,473.2 948.2,459.2 1186.0,366.2"/><polyline points="235.0,775.8 472.8,747.7 710.5,638.6 948.2,596.7 1186.0,536.4"/><polyline points="235.0,685.2 472.8,619.7 710.5,479.8 948.2,448.4 1186.0,421.6"/><polyline points="235.0,794.8 472.8,743.8 710.5,675.5 948.2,647.3 1186.0,588.3"/><polyline points="235.0,748.8 472.8,709.1 710.5,663.8 948.2,585.6 1186.0,489.4"/><polyline points="235.0,714.3 472.8,660.1 710.5,582.6 948.2,526.6 1186.0,490.8"/><polyline points="235.0,752.4 472.8,715.2 710.5,616.3 948.2,583.5 1186.0,432.6"/><polyline points="235.0,723.1 472.8,651.5 710.5,594.0 948.2,526.1 1186.0,437.8"/><polyline points="235.0,734.7 472.8,685.2 710.5,610.4 948.2,593.2 1186.0,525.3"/><polyline points="235.0,780.4 472.8,633.8 710.5,554.2 948.2,474.7 1186.0,426.5"/><polyline points="235.0,704.2 472.8,604.4 710.5,532.4 948.2,471.0 1186.0,440.3"/><polyline points="235.0,707.4 472.8,586.7 710.5,468.4 948.2,398.5 1186.0,390.5"/><polyline points="235.0,722.3 472.8,569.8 710.5,484.3 948.2,463.2 1186.0,370.7"/><polyline points="235.0,776.3 472.8,746.2 710.5,719.6 948.2,628.3 1186.0,558.4"/><polyline points="235.0,719.9 472.8,630.6 710.5,561.7 948.2,419.9 1186.0,347.7"/><polyline points="235.0,662.9 472.8,432.5 710.5,243.5 948.2,223.8 1186.0,204.2"/><polyline points="235.0,749.0 472.8,725.5 710.5,682.0 948.2,665.0 1186.0,589.7"/><polyline points="235.0,727.9 472.8,691.2 710.5,622.5 948.2,570.3 1186.0,515.9"/><polyline points="235.0,721.7 472.8,615.7 710.5,514.3 948.2,407.5 1186.0,399.4"/><polyline points="235.0,771.5 472.8,748.0 710.5,660.3 948.2,627.4 1186.0,496.2"/><polyline points="235.0,710.3 472.8,661.2 710.5,507.6 948.2,471.5 1186.0,430.1"/><polyline points="235.0,778.0 472.8,714.9 710.5,649.2 948.2,569.8 1186.0,477.4"/><polyline points="235.0,774.8 472.8,740.5 710.5,671.1 948.2,396.9 1186.0,357.8"/><polyline points="235.0,750.4 472.8,690.5 710.5,619.2 948.2,579.7 1186.0,531.2"/><polyline points="235.0,762.0 472.8,723.6 710.5,658.4 948.2,577.6 1186.0,351.8"/><polyline points="235.0,759.2 472.8,740.1 710.5,666.3 948.2,657.4 1186.0,586.9"/><polyline points="235.0,753.6 472.8,724.5 710.5,664.3 948.2,599.7 1186.0,509.9"/><polyline points="235.0,699.5 472.8,551.3 710.5,445.2 948.2,435.2 1186.0,404.5"/><polyline points="235.0,738.5 472.8,679.7 710.5,594.4 948.2,519.9 1186.0,494.8"/><polyline points="235.0,732.4 472.8,660.8 710.5,590.6 948.2,564.7 1186.0,443.5"/><polyline points="235.0,795.7 472.8,739.2 710.5,688.0 948.2,646.2 1186.0,561.7"/><polyline points="235.0,703.1 472.8,536.6 710.5,443.2 948.2,405.1 1186.0,352.6"/><polyline points="235.0,712.9 472.8,638.6 710.5,559.8 948.2,523.3 1186.0,488.5"/><polyline points="235.0,730.6 472.8,645.4 710.5,501.3 948.2,428.1 1186.0,367.5"/><polyline points="235.0,693.7 472.8,563.5 710.5,399.3 948.2,333.8 1186.0,95.6"/><polyline points="235.0,744.7 472.8,632.9 710.5,515.0 948.2,433.1 1186.0,420.0"/><polyline points="235.0,764.3 472.8,722.6 710.5,676.1 948.2,623.7 1186.0,449.2"/><polyline points="235.0,735.1 472.8,682.1 710.5,574.8 948.2,524.7 1186.0,505.1"/><polyline points="235.0,668.4 472.8,593.2 710.5,388.1 948.2,375.9 1186.0,302.8"/><polyline points="235.0,741.3 472.8,617.7 710.5,529.9 948.2,511.6 1186.0,452.5"/><polyline points="235.0,700.3 472.8,623.6 710.5,513.6 948.2,468.8 1186.0,400.3"/><polyline points="235.0,727.1 472.8,687.2 710.5,618.4 948.2,552.6 1186.0,502.7"/><polyline points="235.0,713.1 472.8,609.4 710.5,427.1 948.2,394.3 1186.0,354.1"/><polyline points="235.0,787.4 472.8,726.5 710.5,633.3 948.2,522.8 1186.0,448.0"/><polyline points="235.0,712.4 472.8,650.7 710.5,552.1 948.2,531.8 1186.0,426.9"/><polyline points="235.0,729.4 472.8,690.2 710.5,566.6 948.2,463.8 1186.0,293.2"/><polyline points="235.0,785.9 472.8,721.0 710.5,642.3 948.2,481.6 1186.0,451.7"/><polyline points="235.0,704.9 472.8,664.2 710.5,577.8 948.2,507.2 1186.0,479.9"/><polyline points="235.0,724.2 472.8,572.4 710.5,466.4 948.2,432.4 1186.0,420.4"/><polyline points="235.0,774.4 472.8,702.1 710.5,643.2 948.2,531.3 1186.0,441.1"/><polyline points="235.0,750.0 472.8,708.2 710.5,617.1 948.2,600.9 1186.0,517.4"/><polyline points="235.0,733.1 472.8,655.8 710.5,579.6 948.2,521.3 1186.0,485.5"/><polyline points="235.0,749.6 472.8,706.9 710.5,627.9 948.2,563.7 1186.0,297.2"/><polyline points="235.0,761.3 472.8,741.1 710.5,703.4 948.2,641.0 1186.0,448.4"/><polyline points="235.0,670.5 472.8,581.8 710.5,493.0 948.2,272.9 1186.0,251.3"/><polyline points="235.0,715.7 472.8,561.6 710.5,436.8 948.2,372.3 1186.0,301.0"/><polyline points="235.0,721.4 472.8,595.7 710.5,487.8 948.2,459.8 1186.0,438.3"/><polyline points="235.0,688.6 472.8,560.6 710.5,417.0 948.2,399.4 1186.0,391.0"/><polyline points="235.0,689.7 472.8,496.0 710.5,398.1 948.2,383.9 1186.0,375.6"/><polyline points="235.0,686.8 472.8,593.9 710.5,512.1 948.2,490.5 1186.0,422.0"/><polyline points="235.0,767.7 472.8,735.9 710.5,645.3 948.2,585.1 1186.0,496.6"/><polyline points="235.0,784.4 472.8,738.5 710.5,652.4 948.2,472.6 1186.0,446.0"/><polyline points="235.0,771.1 472.8,752.8 710.5,685.8 948.2,637.9 1186.0,564.1"/><polyline points="235.0,674.8 472.8,552.4 710.5,450.4 948.2,422.9 1186.0,409.9"/><polyline points="235.0,679.1 472.8,583.9 710.5,469.4 948.2,416.9 1186.0,408.5"/><polyline points="235.0,783.3 472.8,703.4 710.5,651.0 948.2,587.8 1186.0,479.0"/><polyline points="235.0,676.8 472.8,521.4 710.5,385.5 948.2,374.1 1186.0,365.5"/><polyline points="235.0,723.6 472.8,686.2 710.5,620.9 948.2,566.7 1186.0,512.9"/><polyline points="235.0,703.9 472.8,664.6 710.5,537.3 948.2,428.8 1186.0,393.0"/><polyline points="235.0,722.9 472.8,585.3 710.5,486.1 948.2,401.8 1186.0,379.6"/><polyline points="235.0,738.9 472.8,681.4 710.5,586.0 948.2,557.1 1186.0,461.4"/><polyline points="235.0,734.3 472.8,668.3 710.5,576.5 948.2,462.7 1186.0,414.2"/><polyline points="235.0,680.2 472.8,570.7 710.5,475.1 948.2,371.4 1186.0,216.2"/><polyline points="235.0,733.7 472.8,637.3 710.5,579.1 948.2,491.0 1186.0,406.8"/><polyline points="235.0,726.9 472.8,608.3 710.5,536.7 948.2,443.2 1186.0,415.9"/><polyline points="235.0,717.0 472.8,599.9 710.5,506.9 948.2,486.9 1186.0,450.4"/><polyline points="235.0,731.0 472.8,684.5 710.5,592.3 948.2,542.3 1186.0,514.4"/><polyline points="235.0,590.6 472.8,436.0 710.5,367.9 948.2,317.6 1186.0,309.3"/><polyline points="235.0,776.5 472.8,645.0 710.5,600.8 948.2,545.7 1186.0,500.8"/><polyline points="235.0,817.3 472.8,771.0 710.5,668.4 948.2,588.8 1186.0,523.1"/><polyline points="235.0,725.7 472.8,655.0 710.5,581.3 948.2,429.5 1186.0,280.4"/><polyline points="235.0,689.4 472.8,482.5 710.5,364.0 948.2,335.2 1186.0,326.9"/><polyline points="235.0,687.9 472.8,607.8 710.5,545.5 948.2,503.7 1186.0,392.5"/><polyline points="235.0,694.0 472.8,580.3 710.5,459.5 948.2,366.8 1186.0,358.6"/><polyline points="235.0,783.9 472.8,754.4 710.5,624.2 948.2,476.9 1186.0,238.0"/><polyline points="235.0,752.8 472.8,679.0 710.5,591.1 948.2,489.5 1186.0,432.2"/><polyline points="235.0,701.6 472.8,658.9 710.5,500.5 948.2,457.5 1186.0,356.4"/><polyline points="235.0,756.9 472.8,716.2 710.5,659.4 948.2,613.1 1186.0,523.7"/><polyline points="235.0,752.2 472.8,666.4 710.5,607.1 948.2,589.4 1186.0,493.4"/><polyline points="235.0,749.8 472.8,723.9 710.5,585.5 948.2,498.2 1186.0,462.2"/><polyline points="235.0,775.5 472.8,742.1 710.5,691.7 948.2,650.6 1186.0,556.2"/><polyline points="235.0,707.9 472.8,635.5 710.5,448.4 948.2,405.9 1186.0,397.4"/><polyline points="235.0,779.9 472.8,733.0 710.5,626.3 948.2,591.0 1186.0,491.7"/><polyline points="235.0,728.6 472.8,601.6 710.5,520.6 948.2,456.9 1186.0,384.6"/><polyline points="235.0,773.4 472.8,671.2 710.5,603.3 948.2,554.1 1186.0,505.5"/><polyline points="235.0,749.4 472.8,730.4 710.5,690.2 948.2,643.0 1186.0,572.5"/><polyline points="235.0,793.5 472.8,759.6 710.5,680.7 948.2,667.9 1186.0,554.2"/><polyline points="235.0,732.9 472.8,695.4 710.5,568.4 948.2,538.5 1186.0,488.1"/><polyline points="235.0,790.5 472.8,753.6 710.5,644.9 948.2,549.7 1186.0,457.3"/><polyline points="235.0,651.3 472.8,554.6 710.5,460.5 948.2,390.0 1186.0,381.9"/><polyline points="235.0,718.6 472.8,643.3 710.5,545.0 948.2,482.2 1186.0,468.3"/><polyline points="235.0,797.2 472.8,765.5 710.5,673.3 948.2,642.0 1186.0,566.4"/><polyline points="235.0,713.6 472.8,674.1 710.5,528.6 948.2,469.3 1186.0,434.6"/><polyline points="235.0,701.8 472.8,618.7 710.5,544.4 948.2,519.4 1186.0,491.2"/><polyline points="235.0,691.8 472.8,612.6 710.5,432.5 948.2,404.3 1186.0,388.9"/><polyline points="235.0,664.5 472.8,588.7 710.5,485.2 948.2,381.3 1186.0,373.1"/><polyline points="235.0,721.9 472.8,680.0 710.5,629.1 948.2,584.5 1186.0,362.1"/><polyline points="235.0,691.1 472.8,597.5 710.5,400.6 948.2,307.9 1186.0,287.0"/><polyline points="235.0,770.6 472.8,735.3 710.5,677.2 948.2,640.0 1186.0,355.6"/><polyline points="235.0,741.7 472.8,674.8 710.5,546.1 948.2,521.8 1186.0,474.4"/><polyline points="235.0,698.1 472.8,623.1 710.5,463.5 948.2,449.0 1186.0,437.4"/><polyline points="235.0,770.2 472.8,746.6 710.5,654.2 948.2,597.9 1186.0,425.3"/><polyline points="235.0,686.0 472.8,589.4 710.5,406.6 948.2,396.0 1186.0,387.9"/><polyline points="235.0,767.0 472.8,703.7 710.5,594.9 948.2,532.7 1186.0,487.7"/><polyline points="235.0,725.0 472.8,647.8 710.5,570.7 948.2,445.8 1186.0,433.0"/><polyline points="235.0,706.9 472.8,657.4 710.5,418.2 948.2,373.2 1186.0,364.8"/><polyline points="235.0,723.4 472.8,670.1 710.5,621.7 948.2,480.6 1186.0,377.3"/><polyline points="235.0,805.2 472.8,747.0 710.5,498.9 948.2,441.9 1186.0,427.7"/><polyline points="235.0,656.8 472.8,543.2 710.5,374.5 948.2,332.4 1186.0,323.6"/><polyline points="235.0,644.5 472.8,550.2 710.5,433.6 948.2,349.6 1186.0,338.9"/><polyline points="235.0,728.4 472.8,676.9 710.5,608.3 948.2,573.5 1186.0,415.0"/><polyline points="235.0,739.8 472.8,682.8 710.5,578.7 948.2,564.2 1186.0,516.9"/><polyline points="235.0,785.0 472.8,727.1 710.5,543.8 948.2,478.5 1186.0,450.0"/><polyline points="235.0,727.7 472.8,683.8 710.5,617.5 948.2,561.6 1186.0,463.8"/><polyline points="235.0,760.0 472.8,687.9 710.5,597.0 948.2,548.7 1186.0,499.9"/><polyline points="235.0,788.7 472.8,754.7 710.5,612.9 948.2,567.8 1186.0,526.5"/><polyline points="235.0,732.2 472.8,665.7 710.5,586.8 948.2,541.9 1186.0,384.1"/><polyline points="235.0,819.6 472.8,782.0 710.5,745.3 948.2,738.5 1186.0,578.8"/><polyline points="235.0,732.0 472.8,532.4 710.5,396.9 948.2,321.2 1186.0,270.9"/><polyline points="235.0,734.9 472.8,649.1 710.5,588.5 948.2,539.4 1186.0,510.4"/><polyline points="235.0,781.2 472.8,697.7 710.5,600.4 948.2,516.5 1186.0,460.6"/><polyline points="235.0,757.9 472.8,731.3 710.5,672.2 948.2,632.1 1186.0,570.0"/><polyline points="235.0,743.6 472.8,706.6 710.5,570.3 948.2,465.5 1186.0,443.9"/><polyline points="235.0,751.6 472.8,734.0 710.5,612.1 948.2,550.2 1186.0,472.4"/><polyline points="235.0,773.9 472.8,698.6 710.5,574.3 948.2,461.5 1186.0,446.4"/><polyline points="235.0,683.0 472.8,581.0 710.5,453.5 948.2,423.6 1186.0,406.3"/><polyline points="235.0,741.9 472.8,711.0 710.5,606.2 948.2,567.3 1186.0,442.3"/></g></g>
<g><defs><g id="p"><path d="M3,0h2v1h2v2h1v2h-1v2h-2v1h-2v-1h-2v-2h-1v-2h1v-2h2z" fill-opacity="0.2"/><path d="M3,0h2v1h2v2h1v2h-1v2h-2v1h-2v-1h-2v-2h-1v-2h1v-2h2zM3,1h2v1h1v1h1v2h-1v1h-1v1h-2v-1h-1v-1h-1v-2h1v-1h1z" fill-rule="evenodd" fill-opacity="0.2"/></g></defs><g fill="#000" shape-rendering="crispEdges"><use href="#p" x="231" y="789"/><use href="#p" x="469" y="758"/><use href="#p" x="706" y="732"/><use href="#p" x="944" y="688"/><use href="#p" x="1182" y="634"/><use href="#p" x="231" y="779"/><use href="#p" x="469" y="682"/><use href="#p" x="706" y="628"/><use href="#p" x="944" y="520"/><use href="#p" x="1182" y="392"/><use href="#p" x="231" y="769"/><use href="#p" x="469" y="746"/><use href="#p" x="706" y="695"/><use href="#p" x="944" y="570"/><use href="#p" x="1182" y="429"/><use href="#p" x="231" y="741"/><use href="#p" x="469" y="636"/><use href="#p" x="706" y="587"/><use href="#p" x="944" y="530"/><use href="#p" x="1182" y="461"/><use href="#p" x="231" y="787"/><use href="#p" x="469" y="735"/><use href="#p" x="706" y="661"/><use href="#p" x="944" y="640"/><use href="#p" x="1182" y="567"/><use href="#p" x="231" y="762"/><use href="#p" x="469" y="635"/><use href="#p" x="706" y="552"/><use href="#p" x="944" y="497"/><use href="#p" x="1182" y="476"/><use href="#p" x="231" y="762"/><use href="#p" x="469" y="679"/><use href="#p" x="706" y="568"/><use href="#p" x="944" y="525"/><use href="#p" x="1182" y="435"/><use href="#p" x="231" y="709"/><use href="#p" x="469" y="638"/><use href="#p" x="706" y="573"/><use href="#p" x="944" y="543"/><use href="#p" x="1182" y="312"/><use href="#p" x="231" y="697"/><use href="#p" x="469" y="556"/><use href="#p" x="706" y="474"/><use href="#p" x="944" y="397"/><use href="#p" x="1182" y="311"/><use href="#p" x="231" y="727"/><use href="#p" x="469" y="686"/><use href="#p" x="706" y="529"/><use href="#p" x="944" y="447"/><use href="#p" x="1182" y="419"/><use href="#p" x="231" y="741"/><use href="#p" x="469" y="654"/><use href="#p" x="706" y="611"/><use href="#p" x="944" y="572"/><use href="#p" x="1182" y="471"/><use href="#p" x="231" y="662"/><use href="#p" x="469" y="561"/><use href="#p" x="706" y="478"/><use href="#p" x="944" y="422"/><use href="#p" x="1182" y="256"/><use href="#p" x="231" y="756"/><use href="#p" x="469" y="739"/><use href="#p" x="706" y="692"/><use href="#p" x="944" y="657"/><use href="#p" x="1182" y="546"/><use href="#p" x="231" y="758"/><use href="#p" x="469" y="704"/><use href="#p" x="706" y="614"/><use href="#p" x="944" y="592"/><use href="#p" x="1182" y="510"/><use href="#p" x="231" y="689"/><use href="#p" x="469" y="564"/><use href="#p" x="706" y="348"/><use href="#p" x="944" y="336"/><use href="#p" x="1182" y="310"/><use href="#p" x="231" y="702"/><use href="#p" x="469" y="638"/><use href="#p" x="706" y="463"/><use href="#p" x="944" y="423"/><use href="#p" x="1182" y="414"/><use href="#p" x="231" y="743"/><use href="#p" x="469" y="670"/><use href="#p" x="706" y="605"/><use href="#p" x="944" y="463"/><use href="#p" x="1182" y="413"/><use href="#p" x="231" y="759"/><use href="#p" x="469" y="700"/><use href="#p" x="706" y="477"/><use href="#p" x="944" y="375"/><use href="#p" x="1182" y="285"/><use href="#p" x="231" y="798"/><use href="#p" x="469" y="739"/><use href="#p" x="706" y="607"/><use href="#p" x="944" y="462"/><use href="#p" x="1182" y="454"/><use href="#p" x="231" y="691"/><use href="#p" x="469" y="611"/><use href="#p" x="706" y="483"/><use href="#p" x="944" y="468"/><use href="#p" x="1182" y="394"/><use href="#p" x="231" y="787"/><use href="#p" x="469" y="710"/><use href="#p" x="706" y="519"/><use href="#p" x="944" y="407"/><use href="#p" x="1182" y="399"/><use href="#p" x="231" y="744"/><use href="#p" x="469" y="710"/><use href="#p" x="706" y="602"/><use href="#p" x="944" y="499"/><use href="#p" x="1182" y="473"/><use href="#p" x="231" y="713"/><use href="#p" x="469" y="633"/><use href="#p" x="706" y="560"/><use href="#p" x="944" y="510"/><use href="#p" x="1182" y="490"/><use href="#p" x="231" y="675"/><use href="#p" x="469" y="572"/><use href="#p" x="706" y="369"/><use href="#p" x="944" y="319"/><use href="#p" x="1182" y="237"/><use href="#p" x="231" y="685"/><use href="#p" x="469" y="565"/><use href="#p" x="706" y="445"/><use href="#p" x="944" y="388"/><use href="#p" x="1182" y="326"/><use href="#p" x="231" y="736"/><use href="#p" x="469" y="689"/><use href="#p" x="706" y="629"/><use href="#p" x="944" y="591"/><use href="#p" x="1182" y="455"/><use href="#p" x="231" y="681"/><use href="#p" x="469" y="600"/><use href="#p" x="706" y="520"/><use href="#p" x="944" y="474"/><use href="#p" x="1182" y="461"/><use href="#p" x="231" y="711"/><use href="#p" x="469" y="617"/><use href="#p" x="706" y="559"/><use href="#p" x="944" y="500"/><use href="#p" x="1182" y="426"/><use href="#p" x="231" y="760"/><use href="#p" x="469" y="731"/><use href="#p" x="706" y="681"/><use href="#p" x="944" y="589"/><use href="#p" x="1182" y="483"/><use href="#p" x="231" y="721"/><use href="#p" x="469" y="646"/><use href="#p" x="706" y="594"/><use href="#p" x="944" y="448"/><use href="#p" x="1182" y="423"/><use href="#p" x="231" y="711"/><use href="#p" x="469" y="658"/><use href="#p" x="706" y="461"/><use href="#p" x="944" y="427"/><use href="#p" x="1182" y="398"/><use href="#p" x="231" y="692"/><use href="#p" x="469" y="599"/><use href="#p" x="706" y="527"/><use href="#p" x="944" y="464"/><use href="#p" x="1182" y="370"/><use href="#p" x="231" y="708"/><use href="#p" x="469" y="665"/><use href="#p" x="706" y="605"/><use href="#p" x="944" y="577"/><use href="#p" x="1182" y="530"/><use href="#p" x="231" y="788"/><use href="#p" x="469" y="753"/><use href="#p" x="706" y="707"/><use href="#p" x="944" y="671"/><use href="#p" x="1182" y="580"/><use href="#p" x="231" y="791"/><use href="#p" x="469" y="696"/><use href="#p" x="706" y="546"/><use href="#p" x="944" y="489"/><use href="#p" x="1182" y="407"/><use href="#p" x="231" y="674"/><use href="#p" x="469" y="559"/><use href="#p" x="706" y="376"/><use href="#p" x="944" y="350"/><use href="#p" x="1182" y="332"/><use href="#p" x="231" y="751"/><use href="#p" x="469" y="701"/><use href="#p" x="706" y="617"/><use href="#p" x="944" y="576"/><use href="#p" x="1182" y="507"/><use href="#p" x="231" y="736"/><use href="#p" x="469" y="542"/><use href="#p" x="706" y="412"/><use href="#p" x="944" y="391"/><use href="#p" x="1182" y="327"/><use href="#p" x="231" y="712"/><use href="#p" x="469" y="646"/><use href="#p" x="706" y="569"/><use href="#p" x="944" y="353"/><use href="#p" x="1182" y="342"/><use href="#p" x="231" y="799"/><use href="#p" x="469" y="757"/><use href="#p" x="706" y="642"/><use href="#p" x="944" y="599"/><use href="#p" x="1182" y="537"/><use href="#p" x="231" y="749"/><use href="#p" x="469" y="705"/><use href="#p" x="706" y="566"/><use href="#p" x="944" y="492"/><use href="#p" x="1182" y="411"/><use href="#p" x="231" y="655"/><use href="#p" x="469" y="466"/><use href="#p" x="706" y="372"/><use href="#p" x="944" y="351"/><use href="#p" x="1182" y="287"/><use href="#p" x="231" y="721"/><use href="#p" x="469" y="579"/><use href="#p" x="706" y="389"/><use href="#p" x="944" y="379"/><use href="#p" x="1182" y="371"/><use href="#p" x="231" y="732"/><use href="#p" x="469" y="674"/><use href="#p" x="706" y="545"/><use href="#p" x="944" y="491"/><use href="#p" x="1182" y="415"/><use href="#p" x="231" y="741"/><use href="#p" x="469" y="658"/><use href="#p" x="706" y="595"/><use href="#p" x="944" y="498"/><use href="#p" x="1182" y="482"/><use href="#p" x="231" y="773"/><use href="#p" x="469" y="725"/><use href="#p" x="706" y="657"/><use href="#p" x="944" y="592"/><use href="#p" x="1182" y="537"/><use href="#p" x="231" y="692"/><use href="#p" x="469" y="610"/><use href="#p" x="706" y="501"/><use href="#p" x="944" y="399"/><use href="#p" x="1182" y="391"/><use href="#p" x="231" y="775"/><use href="#p" x="469" y="734"/><use href="#p" x="706" y="668"/><use href="#p" x="944" y="622"/><use href="#p" x="1182" y="549"/><use href="#p" x="231" y="755"/><use href="#p" x="469" y="729"/><use href="#p" x="706" y="667"/><use href="#p" x="944" y="580"/><use href="#p" x="1182" y="427"/><use href="#p" x="231" y="750"/><use href="#p" x="469" y="732"/><use href="#p" x="706" y="583"/><use href="#p" x="944" y="433"/><use href="#p" x="1182" y="414"/><use href="#p" x="231" y="761"/><use href="#p" x="469" y="693"/><use href="#p" x="706" y="627"/><use href="#p" x="944" y="608"/><use href="#p" x="1182" y="516"/><use href="#p" x="231" y="737"/><use href="#p" x="469" y="674"/><use href="#p" x="706" y="623"/><use href="#p" x="944" y="593"/><use href="#p" x="1182" y="440"/><use href="#p" x="231" y="743"/><use href="#p" x="469" y="707"/><use href="#p" x="706" y="658"/><use href="#p" x="944" y="610"/><use href="#p" x="1182" y="527"/><use href="#p" x="231" y="777"/><use href="#p" x="469" y="724"/><use href="#p" x="706" y="631"/><use href="#p" x="944" y="565"/><use href="#p" x="1182" y="526"/><use href="#p" x="231" y="708"/><use href="#p" x="469" y="612"/><use href="#p" x="706" y="487"/><use href="#p" x="944" y="434"/><use href="#p" x="1182" y="374"/><use href="#p" x="231" y="752"/><use href="#p" x="469" y="706"/><use href="#p" x="706" y="611"/><use href="#p" x="944" y="590"/><use href="#p" x="1182" y="530"/><use href="#p" x="231" y="734"/><use href="#p" x="469" y="605"/><use href="#p" x="706" y="522"/><use href="#p" x="944" y="396"/><use href="#p" x="1182" y="388"/><use href="#p" x="231" y="756"/><use href="#p" x="469" y="731"/><use href="#p" x="706" y="683"/><use href="#p" x="944" y="667"/><use href="#p" x="1182" y="590"/><use href="#p" x="231" y="726"/><use href="#p" x="469" y="660"/><use href="#p" x="706" y="593"/><use href="#p" x="944" y="559"/><use href="#p" x="1182" y="494"/><use href="#p" x="231" y="750"/><use href="#p" x="469" y="690"/><use href="#p" x="706" y="637"/><use href="#p" x="944" y="556"/><use href="#p" x="1182" y="459"/><use href="#p" x="231" y="762"/><use href="#p" x="469" y="730"/><use href="#p" x="706" y="440"/><use href="#p" x="944" y="366"/><use href="#p" x="1182" y="159"/><use href="#p" x="231" y="770"/><use href="#p" x="469" y="750"/><use href="#p" x="706" y="705"/><use href="#p" x="944" y="655"/><use href="#p" x="1182" y="559"/><use href="#p" x="231" y="720"/><use href="#p" x="469" y="651"/><use href="#p" x="706" y="537"/><use href="#p" x="944" y="476"/><use href="#p" x="1182" y="450"/><use href="#p" x="231" y="713"/><use href="#p" x="469" y="521"/><use href="#p" x="706" y="375"/><use href="#p" x="944" y="361"/><use href="#p" x="1182" y="334"/><use href="#p" x="231" y="684"/><use href="#p" x="469" y="617"/><use href="#p" x="706" y="543"/><use href="#p" x="944" y="439"/><use href="#p" x="1182" y="359"/><use href="#p" x="231" y="758"/><use href="#p" x="469" y="665"/><use href="#p" x="706" y="601"/><use href="#p" x="944" y="524"/><use href="#p" x="1182" y="470"/><use href="#p" x="231" y="763"/><use href="#p" x="469" y="692"/><use href="#p" x="706" y="615"/><use href="#p" x="944" y="561"/><use href="#p" x="1182" y="291"/><use href="#p" x="231" y="677"/><use href="#p" x="469" y="568"/><use href="#p" x="706" y="422"/><use href="#p" x="944" y="360"/><use href="#p" x="1182" y="174"/><use href="#p" x="231" y="706"/><use href="#p" x="469" y="644"/><use href="#p" x="706" y="549"/><use href="#p" x="944" y="476"/><use href="#p" x="1182" y="449"/><use href="#p" x="231" y="729"/><use href="#p" x="469" y="696"/><use href="#p" x="706" y="650"/><use href="#p" x="944" y="625"/><use href="#p" x="1182" y="572"/><use href="#p" x="231" y="717"/><use href="#p" x="469" y="652"/><use href="#p" x="706" y="554"/><use href="#p" x="944" y="521"/><use href="#p" x="1182" y="463"/><use href="#p" x="231" y="680"/><use href="#p" x="469" y="575"/><use href="#p" x="706" y="400"/><use href="#p" x="944" y="389"/><use href="#p" x="1182" y="372"/><use href="#p" x="231" y="709"/><use href="#p" x="469" y="667"/><use href="#p" x="706" y="606"/><use href="#p" x="944" y="496"/><use href="#p" x="1182" y="379"/><use href="#p" x="231" y="743"/><use href="#p" x="469" y="671"/><use href="#p" x="706" y="594"/><use href="#p" x="944" y="540"/><use href="#p" x="1182" y="469"/><use href="#p" x="231" y="754"/><use href="#p" x="469" y="619"/><use href="#p" x="706" y="565"/><use href="#p" x="944" y="543"/><use href="#p" x="1182" y="508"/><use href="#p" x="231" y="738"/><use href="#p" x="469" y="702"/><use href="#p" x="706" y="579"/><use href="#p" x="944" y="498"/><use href="#p" x="1182" y="447"/><use href="#p" x="231" y="768"/><use href="#p" x="469" y="661"/><use href="#p" x="706" y="598"/><use href="#p" x="944" y="532"/><use href="#p" x="1182" y="443"/><use href="#p" x="231" y="804"/><use href="#p" x="469" y="760"/><use href="#p" x="706" y="646"/><use href="#p" x="944" y="515"/><use href="#p" x="1182" y="472"/><use href="#p" x="231" y="759"/><use href="#p" x="469" y="688"/><use href="#p" x="706" y="450"/><use href="#p" x="944" y="378"/><use href="#p" x="1182" y="370"/><use href="#p" x="231" y="650"/><use href="#p" x="469" y="562"/><use href="#p" x="706" y="421"/><use href="#p" x="944" y="406"/><use href="#p" x="1182" y="164"/><use href="#p" x="231" y="778"/><use href="#p" x="469" y="634"/><use href="#p" x="706" y="531"/><use href="#p" x="944" y="442"/><use href="#p" x="1182" y="425"/><use href="#p" x="231" y="803"/><use href="#p" x="469" y="737"/><use href="#p" x="706" y="685"/><use href="#p" x="944" y="665"/><use href="#p" x="1182" y="589"/><use href="#p" x="231" y="733"/><use href="#p" x="469" y="624"/><use href="#p" x="706" y="558"/><use href="#p" x="944" y="480"/><use href="#p" x="1182" y="451"/><use href="#p" x="231" y="752"/><use href="#p" x="469" y="675"/><use href="#p" x="706" y="619"/><use href="#p" x="944" y="578"/><use href="#p" x="1182" y="478"/><use href="#p" x="231" y="738"/><use href="#p" x="469" y="622"/><use href="#p" x="706" y="538"/><use href="#p" x="944" y="496"/><use href="#p" x="1182" y="473"/><use href="#p" x="231" y="672"/><use href="#p" x="469" y="595"/><use href="#p" x="706" y="530"/><use href="#p" x="944" y="458"/><use href="#p" x="1182" y="450"/><use href="#p" x="231" y="777"/><use href="#p" x="469" y="684"/><use href="#p" x="706" y="621"/><use href="#p" x="944" y="573"/><use href="#p" x="1182" y="420"/><use href="#p" x="231" y="715"/><use href="#p" x="469" y="665"/><use href="#p" x="706" y="383"/><use href="#p" x="944" y="342"/><use href="#p" x="1182" y="231"/><use href="#p" x="231" y="730"/><use href="#p" x="469" y="701"/><use href="#p" x="706" y="523"/><use href="#p" x="944" y="469"/><use href="#p" x="1182" y="446"/><use href="#p" x="231" y="715"/><use href="#p" x="469" y="573"/><use href="#p" x="706" y="504"/><use href="#p" x="944" y="449"/><use href="#p" x="1182" y="345"/><use href="#p" x="231" y="767"/><use href="#p" x="469" y="719"/><use href="#p" x="706" y="675"/><use href="#p" x="944" y="658"/><use href="#p" x="1182" y="561"/><use href="#p" x="231" y="760"/><use href="#p" x="469" y="706"/><use href="#p" x="706" y="635"/><use href="#p" x="944" y="595"/><use href="#p" x="1182" y="318"/><use href="#p" x="231" y="643"/><use href="#p" x="469" y="514"/><use href="#p" x="706" y="367"/><use href="#p" x="944" y="308"/><use href="#p" x="1182" y="262"/><use href="#p" x="231" y="769"/><use href="#p" x="469" y="688"/><use href="#p" x="706" y="623"/><use href="#p" x="944" y="588"/><use href="#p" x="1182" y="477"/><use href="#p" x="231" y="747"/><use href="#p" x="469" y="688"/><use href="#p" x="706" y="610"/><use href="#p" x="944" y="541"/><use href="#p" x="1182" y="477"/><use href="#p" x="231" y="783"/><use href="#p" x="469" y="746"/><use href="#p" x="706" y="662"/><use href="#p" x="944" y="651"/><use href="#p" x="1182" y="534"/><use href="#p" x="231" y="687"/><use href="#p" x="469" y="545"/><use href="#p" x="706" y="420"/><use href="#p" x="944" y="358"/><use href="#p" x="1182" y="331"/><use href="#p" x="231" y="808"/><use href="#p" x="469" y="755"/><use href="#p" x="706" y="724"/><use href="#p" x="944" y="700"/><use href="#p" x="1182" y="639"/><use href="#p" x="231" y="739"/><use href="#p" x="469" y="673"/><use href="#p" x="706" y="479"/><use href="#p" x="944" y="414"/><use href="#p" x="1182" y="405"/><use href="#p" x="231" y="672"/><use href="#p" x="469" y="543"/><use href="#p" x="706" y="388"/><use href="#p" x="944" y="345"/><use href="#p" x="1182" y="336"/><use href="#p" x="231" y="744"/><use href="#p" x="469" y="689"/><use href="#p" x="706" y="600"/><use href="#p" x="944" y="583"/><use href="#p" x="1182" y="479"/><use href="#p" x="231" y="759"/><use href="#p" x="469" y="741"/><use href="#p" x="706" y="674"/><use href="#p" x="944" y="633"/><use href="#p" x="1182" y="571"/><use href="#p" x="231" y="734"/><use href="#p" x="469" y="681"/><use href="#p" x="706" y="591"/><use href="#p" x="944" y="574"/><use href="#p" x="1182" y="503"/><use href="#p" x="231" y="818"/><use href="#p" x="469" y="753"/><use href="#p" x="706" y="652"/><use href="#p" x="944" y="611"/><use href="#p" x="1182" y="427"/><use href="#p" x="231" y="696"/><use href="#p" x="469" y="563"/><use href="#p" x="706" y="401"/><use href="#p" x="944" y="333"/><use href="#p" x="1182" y="324"/><use href="#p" x="231" y="699"/><use href="#p" x="469" y="636"/><use href="#p" x="706" y="571"/><use href="#p" x="944" y="534"/><use href="#p" x="1182" y="498"/><use href="#p" x="231" y="706"/><use href="#p" x="469" y="655"/><use href="#p" x="706" y="543"/><use href="#p" x="944" y="517"/><use href="#p" x="1182" y="474"/><use href="#p" x="231" y="689"/><use href="#p" x="469" y="626"/><use href="#p" x="706" y="580"/><use href="#p" x="944" y="531"/><use href="#p" x="1182" y="417"/><use href="#p" x="231" y="735"/><use href="#p" x="469" y="687"/><use href="#p" x="706" y="618"/><use href="#p" x="944" y="526"/><use href="#p" x="1182" y="456"/><use href="#p" x="231" y="713"/><use href="#p" x="469" y="678"/><use href="#p" x="706" y="563"/><use href="#p" x="944" y="450"/><use href="#p" x="1182" y="402"/><use href="#p" x="231" y="785"/><use href="#p" x="469" y="751"/><use href="#p" x="706" y="694"/><use href="#p" x="944" y="650"/><use href="#p" x="1182" y="579"/><use href="#p" x="231" y="765"/><use href="#p" x="469" y="709"/><use href="#p" x="706" y="661"/><use href="#p" x="944" y="652"/><use href="#p" x="1182" y="582"/><use href="#p" x="231" y="755"/><use href="#p" x="469" y="730"/><use href="#p" x="706" y="634"/><use href="#p" x="944" y="598"/><use href="#p" x="1182" y="507"/><use href="#p" x="231" y="720"/><use href="#p" x="469" y="537"/><use href="#p" x="706" y="425"/><use href="#p" x="944" y="403"/><use href="#p" x="1182" y="382"/><use href="#p" x="231" y="810"/><use href="#p" x="469" y="754"/><use href="#p" x="706" y="636"/><use href="#p" x="944" y="579"/><use href="#p" x="1182" y="394"/><use href="#p" x="231" y="747"/><use href="#p" x="469" y="697"/><use href="#p" x="706" y="557"/><use href="#p" x="944" y="484"/><use href="#p" x="1182" y="415"/><use href="#p" x="231" y="811"/><use href="#p" x="469" y="774"/><use href="#p" x="706" y="752"/><use href="#p" x="944" y="641"/><use href="#p" x="1182" y="565"/><use href="#p" x="231" y="711"/><use href="#p" x="469" y="519"/><use href="#p" x="706" y="424"/><use href="#p" x="944" y="354"/><use href="#p" x="1182" y="346"/><use href="#p" x="231" y="725"/><use href="#p" x="469" y="664"/><use href="#p" x="706" y="549"/><use href="#p" x="944" y="506"/><use href="#p" x="1182" y="461"/><use href="#p" x="231" y="751"/><use href="#p" x="469" y="696"/><use href="#p" x="706" y="622"/><use href="#p" x="944" y="470"/><use href="#p" x="1182" y="425"/><use href="#p" x="231" y="752"/><use href="#p" x="469" y="712"/><use href="#p" x="706" y="572"/><use href="#p" x="944" y="532"/><use href="#p" x="1182" y="414"/><use href="#p" x="231" y="751"/><use href="#p" x="469" y="676"/><use href="#p" x="706" y="565"/><use href="#p" x="944" y="507"/><use href="#p" x="1182" y="435"/><use href="#p" x="231" y="720"/><use href="#p" x="469" y="552"/><use href="#p" x="706" y="435"/><use href="#p" x="944" y="417"/><use href="#p" x="1182" y="409"/><use href="#p" x="231" y="696"/><use href="#p" x="469" y="618"/><use href="#p" x="706" y="553"/><use href="#p" x="944" y="503"/><use href="#p" x="1182" y="430"/><use href="#p" x="231" y="755"/><use href="#p" x="469" y="728"/><use href="#p" x="706" y="570"/><use href="#p" x="944" y="456"/><use href="#p" x="1182" y="408"/><use href="#p" x="231" y="740"/><use href="#p" x="469" y="694"/><use href="#p" x="706" y="644"/><use href="#p" x="944" y="615"/><use href="#p" x="1182" y="502"/><use href="#p" x="231" y="761"/><use href="#p" x="469" y="606"/><use href="#p" x="706" y="475"/><use href="#p" x="944" y="383"/><use href="#p" x="1182" y="375"/><use href="#p" x="231" y="717"/><use href="#p" x="469" y="661"/><use href="#p" x="706" y="516"/><use href="#p" x="944" y="421"/><use href="#p" x="1182" y="413"/><use href="#p" x="231" y="723"/><use href="#p" x="469" y="692"/><use href="#p" x="706" y="631"/><use href="#p" x="944" y="547"/><use href="#p" x="1182" y="494"/><use href="#p" x="231" y="731"/><use href="#p" x="469" y="621"/><use href="#p" x="706" y="459"/><use href="#p" x="944" y="382"/><use href="#p" x="1182" y="330"/><use href="#p" x="231" y="694"/><use href="#p" x="469" y="621"/><use href="#p" x="706" y="536"/><use href="#p" x="944" y="454"/><use href="#p" x="1182" y="272"/><use href="#p" x="231" y="762"/><use href="#p" x="469" y="692"/><use href="#p" x="706" y="603"/><use href="#p" x="944" y="440"/><use href="#p" x="1182" y="353"/><use href="#p" x="231" y="771"/><use href="#p" x="469" y="718"/><use href="#p" x="706" y="609"/><use href="#p" x="944" y="584"/><use href="#p" x="1182" y="524"/><use href="#p" x="231" y="750"/><use href="#p" x="469" y="700"/><use href="#p" x="706" y="643"/><use href="#p" x="944" y="550"/><use href="#p" x="1182" y="475"/><use href="#p" x="231" y="747"/><use href="#p" x="469" y="716"/><use href="#p" x="706" y="663"/><use href="#p" x="944" y="466"/><use href="#p" x="1182" y="367"/><use href="#p" x="231" y="745"/><use href="#p" x="469" y="724"/><use href="#p" x="706" y="670"/><use href="#p" x="944" y="645"/><use href="#p" x="1182" y="462"/><use href="#p" x="231" y="711"/><use href="#p" x="469" y="655"/><use href="#p" x="706" y="598"/><use href="#p" x="944" y="505"/><use href="#p" x="1182" y="436"/><use href="#p" x="231" y="794"/><use href="#p" x="469" y="748"/><use href="#p" x="706" y="702"/><use href="#p" x="944" y="689"/><use href="#p" x="1182" y="595"/><use href="#p" x="231" y="755"/><use href="#p" x="469" y="733"/><use href="#p" x="706" y="640"/><use href="#p" x="944" y="507"/><use href="#p" x="1182" y="437"/><use href="#p" x="231" y="777"/><use href="#p" x="469" y="744"/><use href="#p" x="706" y="649"/><use href="#p" x="944" y="603"/><use href="#p" x="1182" y="480"/><use href="#p" x="231" y="783"/><use href="#p" x="469" y="754"/><use href="#p" x="706" y="666"/><use href="#p" x="944" y="569"/><use href="#p" x="1182" y="488"/><use href="#p" x="231" y="738"/><use href="#p" x="469" y="631"/><use href="#p" x="706" y="551"/><use href="#p" x="944" y="447"/><use href="#p" x="1182" y="424"/><use href="#p" x="231" y="704"/><use href="#p" x="469" y="631"/><use href="#p" x="706" y="507"/><use href="#p" x="944" y="493"/><use href="#p" x="1182" y="216"/><use href="#p" x="231" y="765"/><use href="#p" x="469" y="719"/><use href="#p" x="706" y="547"/><use href="#p" x="944" y="477"/><use href="#p" x="1182" y="466"/><use href="#p" x="231" y="736"/><use href="#p" x="469" y="713"/><use href="#p" x="706" y="665"/><use href="#p" x="944" y="617"/><use href="#p" x="1182" y="538"/><use href="#p" x="231" y="670"/><use href="#p" x="469" y="484"/><use href="#p" x="706" y="302"/><use href="#p" x="944" y="287"/><use href="#p" x="1182" y="269"/><use href="#p" x="231" y="676"/><use href="#p" x="469" y="527"/><use href="#p" x="706" y="380"/><use href="#p" x="944" y="339"/><use href="#p" x="1182" y="281"/><use href="#p" x="231" y="614"/><use href="#p" x="469" y="516"/><use href="#p" x="706" y="248"/><use href="#p" x="944" y="234"/><use href="#p" x="1182" y="223"/><use href="#p" x="231" y="693"/><use href="#p" x="469" y="571"/><use href="#p" x="706" y="373"/><use href="#p" x="944" y="322"/><use href="#p" x="1182" y="314"/><use href="#p" x="231" y="773"/><use href="#p" x="469" y="743"/><use href="#p" x="706" y="683"/><use href="#p" x="944" y="656"/><use href="#p" x="1182" y="534"/><use href="#p" x="231" y="704"/><use href="#p" x="469" y="650"/><use href="#p" x="706" y="466"/><use href="#p" x="944" y="364"/><use href="#p" x="1182" y="355"/><use href="#p" x="231" y="743"/><use href="#p" x="469" y="714"/><use href="#p" x="706" y="658"/><use href="#p" x="944" y="622"/><use href="#p" x="1182" y="548"/><use href="#p" x="231" y="805"/><use href="#p" x="469" y="765"/><use href="#p" x="706" y="494"/><use href="#p" x="944" y="417"/><use href="#p" x="1182" y="408"/><use href="#p" x="231" y="773"/><use href="#p" x="469" y="727"/><use href="#p" x="706" y="576"/><use href="#p" x="944" y="452"/><use href="#p" x="1182" y="383"/><use href="#p" x="231" y="726"/><use href="#p" x="469" y="685"/><use href="#p" x="706" y="539"/><use href="#p" x="944" y="450"/><use href="#p" x="1182" y="250"/><use href="#p" x="231" y="714"/><use href="#p" x="469" y="598"/><use href="#p" x="706" y="507"/><use href="#p" x="944" y="470"/><use href="#p" x="1182" y="430"/><use href="#p" x="231" y="732"/><use href="#p" x="469" y="697"/><use href="#p" x="706" y="597"/><use href="#p" x="944" y="534"/><use href="#p" x="1182" y="467"/><use href="#p" x="231" y="716"/><use href="#p" x="469" y="623"/><use href="#p" x="706" y="523"/><use href="#p" x="944" y="494"/><use href="#p" x="1182" y="478"/><use href="#p" x="231" y="761"/><use href="#p" x="469" y="726"/><use href="#p" x="706" y="677"/><use href="#p" x="944" y="493"/><use href="#p" x="1182" y="390"/><use href="#p" x="231" y="751"/><use href="#p" x="469" y="723"/><use href="#p" x="706" y="645"/><use href="#p" x="944" y="548"/><use href="#p" x="1182" y="407"/><use href="#p" x="231" y="753"/><use href="#p" x="469" y="736"/><use href="#p" x="706" y="638"/><use href="#p" x="944" y="616"/><use href="#p" x="1182" y="533"/><use href="#p" x="231" y="702"/><use href="#p" x="469" y="638"/><use href="#p" x="706" y="528"/><use href="#p" x="944" y="373"/><use href="#p" x="1182" y="365"/><use href="#p" x="231" y="695"/><use href="#p" x="469" y="645"/><use href="#p" x="706" y="562"/><use href="#p" x="944" y="473"/><use href="#p" x="1182" y="456"/><use href="#p" x="231" y="697"/><use href="#p" x="469" y="597"/><use href="#p" x="706" y="398"/><use href="#p" x="944" y="327"/><use href="#p" x="1182" y="264"/><use href="#p" x="231" y="782"/><use href="#p" x="469" y="752"/><use href="#p" x="706" y="693"/><use href="#p" x="944" y="596"/><use href="#p" x="1182" y="521"/><use href="#p" x="231" y="731"/><use href="#p" x="469" y="544"/><use href="#p" x="706" y="418"/><use href="#p" x="944" y="383"/><use href="#p" x="1182" y="295"/><use href="#p" x="231" y="774"/><use href="#p" x="469" y="643"/><use href="#p" x="706" y="578"/><use href="#p" x="944" y="525"/><use href="#p" x="1182" y="359"/><use href="#p" x="231" y="775"/><use href="#p" x="469" y="728"/><use href="#p" x="706" y="671"/><use href="#p" x="944" y="619"/><use href="#p" x="1182" y="553"/><use href="#p" x="231" y="766"/><use href="#p" x="469" y="722"/><use href="#p" x="706" y="499"/><use href="#p" x="944" y="362"/><use href="#p" x="1182" y="308"/><use href="#p" x="231" y="766"/><use href="#p" x="469" y="716"/><use href="#p" x="706" y="648"/><use href="#p" x="944" y="512"/><use href="#p" x="1182" y="480"/><use href="#p" x="231" y="786"/><use href="#p" x="469" y="734"/><use href="#p" x="706" y="701"/><use href="#p" x="944" y="557"/><use href="#p" x="1182" y="253"/><use href="#p" x="231" y="776"/><use href="#p" x="469" y="642"/><use href="#p" x="706" y="532"/><use href="#p" x="944" y="490"/><use href="#p" x="1182" y="396"/><use href="#p" x="231" y="742"/><use href="#p" x="469" y="635"/><use href="#p" x="706" y="586"/><use href="#p" x="944" y="497"/><use href="#p" x="1182" y="422"/><use href="#p" x="231" y="741"/><use href="#p" x="469" y="708"/><use href="#p" x="706" y="653"/><use href="#p" x="944" y="598"/><use href="#p" x="1182" y="551"/><use href="#p" x="231" y="705"/><use href="#p" x="469" y="656"/><use href="#p" x="706" y="506"/><use href="#p" x="944" y="433"/><use href="#p" x="1182" y="425"/><use href="#p" x="231" y="669"/><use href="#p" x="469" y="530"/><use href="#p" x="706" y="407"/><use href="#p" x="944" y="354"/><use href="#p" x="1182" y="345"/><use href="#p" x="231" y="770"/><use href="#p" x="469" y="733"/><use href="#p" x="706" y="606"/><use href="#p" x="944" y="504"/><use href="#p" x="1182" y="452"/><use href="#p" x="231" y="740"/><use href="#p" x="469" y="701"/><use href="#p" x="706" y="632"/><use href="#p" x="944" y="568"/><use href="#p" x="1182" y="518"/><use href="#p" x="231" y="706"/><use href="#p" x="469" y="607"/><use href="#p" x="706" y="467"/><use href="#p" x="944" y="432"/><use href="#p" x="1182" y="397"/><use href="#p" x="231" y="790"/><use href="#p" x="469" y="756"/><use href="#p" x="706" y="698"/><use href="#p" x="944" y="660"/><use href="#p" x="1182" y="570"/><use href="#p" x="231" y="795"/><use href="#p" x="469" y="763"/><use href="#p" x="706" y="697"/><use href="#p" x="944" y="489"/><use href="#p" x="1182" y="360"/><use href="#p" x="231" y="734"/><use href="#p" x="469" y="693"/><use href="#p" x="706" y="631"/><use href="#p" x="944" y="559"/><use href="#p" x="1182" y="471"/><use href="#p" x="231" y="702"/><use href="#p" x="469" y="649"/><use href="#p" x="706" y="535"/><use href="#p" x="944" y="512"/><use href="#p" x="1182" y="441"/><use href="#p" x="231" y="673"/><use href="#p" x="469" y="550"/><use href="#p" x="706" y="427"/><use href="#p" x="944" y="410"/><use href="#p" x="1182" y="377"/><use href="#p" x="231" y="689"/><use href="#p" x="469" y="592"/><use href="#p" x="706" y="490"/><use href="#p" x="944" y="407"/><use href="#p" x="1182" y="399"/><use href="#p" x="231" y="797"/><use href="#p" x="469" y="755"/><use href="#p" x="706" y="674"/><use href="#p" x="944" y="586"/><use href="#p" x="1182" y="542"/><use href="#p" x="231" y="725"/><use href="#p" x="469" y="641"/><use href="#p" x="706" y="554"/><use href="#p" x="944" y="484"/><use href="#p" x="1182" y="369"/><use href="#p" x="231" y="693"/><use href="#p" x="469" y="591"/><use href="#p" x="706" y="419"/><use href="#p" x="944" y="295"/><use href="#p" x="1182" y="227"/><use href="#p" x="231" y="759"/><use href="#p" x="469" y="725"/><use href="#p" x="706" y="681"/><use href="#p" x="944" y="635"/><use href="#p" x="1182" y="496"/><use href="#p" x="231" y="739"/><use href="#p" x="469" y="715"/><use href="#p" x="706" y="656"/><use href="#p" x="944" y="631"/><use href="#p" x="1182" y="519"/><use href="#p" x="231" y="785"/><use href="#p" x="469" y="742"/><use href="#p" x="706" y="640"/><use href="#p" x="944" y="485"/><use href="#p" x="1182" y="455"/><use href="#p" x="231" y="740"/><use href="#p" x="469" y="697"/><use href="#p" x="706" y="611"/><use href="#p" x="944" y="513"/><use href="#p" x="1182" y="478"/><use href="#p" x="231" y="712"/><use href="#p" x="469" y="668"/><use href="#p" x="706" y="518"/><use href="#p" x="944" y="443"/><use href="#p" x="1182" y="433"/><use href="#p" x="231" y="765"/><use href="#p" x="469" y="691"/><use href="#p" x="706" y="590"/><use href="#p" x="944" y="568"/><use href="#p" x="1182" y="528"/><use href="#p" x="231" y="763"/><use href="#p" x="469" y="625"/><use href="#p" x="706" y="485"/><use href="#p" x="944" y="385"/><use href="#p" x="1182" y="325"/><use href="#p" x="231" y="767"/><use href="#p" x="469" y="747"/><use href="#p" x="706" y="640"/><use href="#p" x="944" y="578"/><use href="#p" x="1182" y="523"/><use href="#p" x="231" y="736"/><use href="#p" x="469" y="632"/><use href="#p" x="706" y="537"/><use href="#p" x="944" y="508"/><use href="#p" x="1182" y="404"/><use href="#p" x="231" y="790"/><use href="#p" x="469" y="758"/><use href="#p" x="706" y="676"/><use href="#p" x="944" y="601"/><use href="#p" x="1182" y="544"/><use href="#p" x="231" y="732"/><use href="#p" x="469" y="706"/><use href="#p" x="706" y="626"/><use href="#p" x="944" y="583"/><use href="#p" x="1182" y="495"/><use href="#p" x="231" y="742"/><use href="#p" x="469" y="723"/><use href="#p" x="706" y="670"/><use href="#p" x="944" y="615"/><use href="#p" x="1182" y="543"/><use href="#p" x="231" y="693"/><use href="#p" x="469" y="531"/><use href="#p" x="706" y="432"/><use href="#p" x="944" y="389"/><use href="#p" x="1182" y="208"/><use href="#p" x="231" y="703"/><use href="#p" x="469" y="587"/><use href="#p" x="706" y="524"/><use href="#p" x="944" y="374"/><use href="#p" x="1182" y="365"/><use href="#p" x="231" y="665"/><use href="#p" x="469" y="582"/><use href="#p" x="706" y="366"/><use href="#p" x="944" y="341"/><use href="#p" x="1182" y="333"/><use href="#p" x="231" y="682"/><use href="#p" x="469" y="540"/><use href="#p" x="706" y="290"/><use href="#p" x="944" y="278"/><use href="#p" x="1182" y="81"/><use href="#p" x="231" y="778"/><use href="#p" x="469" y="663"/><use href="#p" x="706" y="561"/><use href="#p" x="944" y="510"/><use href="#p" x="1182" y="448"/><use href="#p" x="231" y="754"/><use href="#p" x="469" y="715"/><use href="#p" x="706" y="659"/><use href="#p" x="944" y="558"/><use href="#p" x="1182" y="514"/><use href="#p" x="231" y="683"/><use href="#p" x="469" y="525"/><use href="#p" x="706" y="405"/><use href="#p" x="944" y="306"/><use href="#p" x="1182" y="139"/><use href="#p" x="231" y="757"/><use href="#p" x="469" y="738"/><use href="#p" x="706" y="628"/><use href="#p" x="944" y="536"/><use href="#p" x="1182" y="490"/><use href="#p" x="231" y="764"/><use href="#p" x="469" y="738"/><use href="#p" x="706" y="703"/><use href="#p" x="944" y="564"/><use href="#p" x="1182" y="486"/><use href="#p" x="231" y="759"/><use href="#p" x="469" y="721"/><use href="#p" x="706" y="665"/><use href="#p" x="944" y="629"/><use href="#p" x="1182" y="514"/><use href="#p" x="231" y="771"/><use href="#p" x="469" y="735"/><use href="#p" x="706" y="689"/><use href="#p" x="944" y="590"/><use href="#p" x="1182" y="404"/><use href="#p" x="231" y="756"/><use href="#p" x="469" y="739"/><use href="#p" x="706" y="545"/><use href="#p" x="944" y="420"/><use href="#p" x="1182" y="343"/><use href="#p" x="231" y="732"/><use href="#p" x="469" y="663"/><use href="#p" x="706" y="553"/><use href="#p" x="944" y="321"/><use href="#p" x="1182" y="302"/><use href="#p" x="231" y="657"/><use href="#p" x="469" y="572"/><use href="#p" x="706" y="492"/><use href="#p" x="944" y="409"/><use href="#p" x="1182" y="49"/><use href="#p" x="231" y="668"/><use href="#p" x="469" y="508"/><use href="#p" x="706" y="314"/><use href="#p" x="944" y="302"/><use href="#p" x="1182" y="192"/><use href="#p" x="231" y="728"/><use href="#p" x="469" y="671"/><use href="#p" x="706" y="478"/><use href="#p" x="944" y="449"/><use href="#p" x="1182" y="439"/><use href="#p" x="231" y="595"/><use href="#p" x="469" y="437"/><use href="#p" x="706" y="362"/><use href="#p" x="944" y="315"/><use href="#p" x="1182" y="307"/><use href="#p" x="231" y="735"/><use href="#p" x="469" y="683"/><use href="#p" x="706" y="589"/><use href="#p" x="944" y="514"/><use href="#p" x="1182" y="485"/><use href="#p" x="231" y="719"/><use href="#p" x="469" y="653"/><use href="#p" x="706" y="582"/><use href="#p" x="944" y="518"/><use href="#p" x="1182" y="465"/><use href="#p" x="231" y="752"/><use href="#p" x="469" y="711"/><use href="#p" x="706" y="647"/><use href="#p" x="944" y="555"/><use href="#p" x="1182" y="492"/><use href="#p" x="231" y="721"/><use href="#p" x="469" y="624"/><use href="#p" x="706" y="579"/><use href="#p" x="944" y="545"/><use href="#p" x="1182" y="431"/><use href="#p" x="231" y="722"/><use href="#p" x="469" y="673"/><use href="#p" x="706" y="610"/><use href="#p" x="944" y="565"/><use href="#p" x="1182" y="475"/><use href="#p" x="231" y="781"/><use href="#p" x="469" y="745"/><use href="#p" x="706" y="644"/><use href="#p" x="944" y="599"/><use href="#p" x="1182" y="539"/><use href="#p" x="231" y="768"/><use href="#p" x="469" y="693"/><use href="#p" x="706" y="599"/><use href="#p" x="944" y="571"/><use href="#p" x="1182" y="511"/><use href="#p" x="231" y="632"/><use href="#p" x="469" y="522"/><use href="#p" x="706" y="378"/><use href="#p" x="944" y="310"/><use href="#p" x="1182" y="301"/><use href="#p" x="231" y="742"/><use href="#p" x="469" y="717"/><use href="#p" x="706" y="572"/><use href="#p" x="944" y="551"/><use href="#p" x="1182" y="431"/><use href="#p" x="231" y="800"/><use href="#p" x="469" y="718"/><use href="#p" x="706" y="647"/><use href="#p" x="944" y="605"/><use href="#p" x="1182" y="522"/><use href="#p" x="231" y="761"/><use href="#p" x="469" y="732"/><use href="#p" x="706" y="691"/><use href="#p" x="944" y="542"/><use href="#p" x="1182" y="420"/><use href="#p" x="231" y="764"/><use href="#p" x="469" y="715"/><use href="#p" x="706" y="630"/><use href="#p" x="944" y="544"/><use href="#p" x="1182" y="518"/><use href="#p" x="231" y="726"/><use href="#p" x="469" y="675"/><use href="#p" x="706" y="527"/><use href="#p" x="944" y="437"/><use href="#p" x="1182" y="403"/><use href="#p" x="231" y="722"/><use href="#p" x="469" y="686"/><use href="#p" x="706" y="634"/><use href="#p" x="944" y="501"/><use href="#p" x="1182" y="474"/><use href="#p" x="231" y="692"/><use href="#p" x="469" y="606"/><use href="#p" x="706" y="416"/><use href="#p" x="944" y="357"/><use href="#p" x="1182" y="337"/><use href="#p" x="231" y="742"/><use href="#p" x="469" y="669"/><use href="#p" x="706" y="616"/><use href="#p" x="944" y="505"/><use href="#p" x="1182" y="421"/><use href="#p" x="231" y="722"/><use href="#p" x="469" y="593"/><use href="#p" x="706" y="493"/><use href="#p" x="944" y="408"/><use href="#p" x="1182" y="304"/><use href="#p" x="231" y="723"/><use href="#p" x="469" y="659"/><use href="#p" x="706" y="577"/><use href="#p" x="944" y="481"/><use href="#p" x="1182" y="460"/><use href="#p" x="231" y="688"/><use href="#p" x="469" y="611"/><use href="#p" x="706" y="486"/><use href="#p" x="944" y="451"/><use href="#p" x="1182" y="442"/><use href="#p" x="231" y="692"/><use href="#p" x="469" y="560"/><use href="#p" x="706" y="442"/><use href="#p" x="944" y="428"/><use href="#p" x="1182" y="384"/><use href="#p" x="231" y="794"/><use href="#p" x="469" y="754"/><use href="#p" x="706" y="685"/><use href="#p" x="944" y="662"/><use href="#p" x="1182" y="574"/><use href="#p" x="231" y="686"/><use href="#p" x="469" y="589"/><use href="#p" x="706" y="468"/><use href="#p" x="944" y="430"/><use href="#p" x="1182" y="412"/><use href="#p" x="231" y="748"/><use href="#p" x="469" y="608"/><use href="#p" x="706" y="546"/><use href="#p" x="944" y="513"/><use href="#p" x="1182" y="464"/><use href="#p" x="231" y="699"/><use href="#p" x="469" y="628"/><use href="#p" x="706" y="544"/><use href="#p" x="944" y="502"/><use href="#p" x="1182" y="465"/><use href="#p" x="231" y="763"/><use href="#p" x="469" y="690"/><use href="#p" x="706" y="458"/><use href="#p" x="944" y="387"/><use href="#p" x="1182" y="378"/><use href="#p" x="231" y="757"/><use href="#p" x="469" y="728"/><use href="#p" x="706" y="619"/><use href="#p" x="944" y="539"/><use href="#p" x="1182" y="422"/><use href="#p" x="231" y="727"/><use href="#p" x="469" y="669"/><use href="#p" x="706" y="585"/><use href="#p" x="944" y="567"/><use href="#p" x="1182" y="420"/><use href="#p" x="231" y="737"/><use href="#p" x="469" y="603"/><use href="#p" x="706" y="505"/><use href="#p" x="944" y="405"/><use href="#p" x="1182" y="397"/><use href="#p" x="231" y="798"/><use href="#p" x="469" y="759"/><use href="#p" x="706" y="679"/><use href="#p" x="944" y="627"/><use href="#p" x="1182" y="259"/><use href="#p" x="231" y="749"/><use href="#p" x="469" y="689"/><use href="#p" x="706" y="620"/><use href="#p" x="944" y="488"/><use href="#p" x="1182" y="340"/><use href="#p" x="231" y="768"/><use href="#p" x="469" y="721"/><use href="#p" x="706" y="514"/><use href="#p" x="944" y="464"/><use href="#p" x="1182" y="395"/><use href="#p" x="231" y="702"/><use href="#p" x="469" y="601"/><use href="#p" x="706" y="521"/><use href="#p" x="944" y="435"/><use href="#p" x="1182" y="410"/><use href="#p" x="231" y="733"/><use href="#p" x="469" y="702"/><use href="#p" x="706" y="564"/><use href="#p" x="944" y="475"/><use href="#p" x="1182" y="444"/><use href="#p" x="231" y="732"/><use href="#p" x="469" y="668"/><use href="#p" x="706" y="509"/><use href="#p" x="944" y="441"/><use href="#p" x="1182" y="418"/><use href="#p" x="231" y="795"/><use href="#p" x="469" y="752"/><use href="#p" x="706" y="680"/><use href="#p" x="944" y="577"/><use href="#p" x="1182" y="535"/><use href="#p" x="231" y="774"/><use href="#p" x="469" y="680"/><use href="#p" x="706" y="535"/><use href="#p" x="944" y="504"/><use href="#p" x="1182" y="450"/><use href="#p" x="231" y="698"/><use href="#p" x="469" y="634"/><use href="#p" x="706" y="530"/><use href="#p" x="944" y="481"/><use href="#p" x="1182" y="432"/><use href="#p" x="231" y="707"/><use href="#p" x="469" y="613"/><use href="#p" x="706" y="539"/><use href="#p" x="944" y="516"/><use href="#p" x="1182" y="453"/><use href="#p" x="231" y="711"/><use href="#p" x="469" y="649"/><use href="#p" x="706" y="515"/><use href="#p" x="944" y="495"/><use href="#p" x="1182" y="411"/><use href="#p" x="231" y="744"/><use href="#p" x="469" y="555"/><use href="#p" x="706" y="443"/><use href="#p" x="944" y="371"/><use href="#p" x="1182" y="363"/><use href="#p" x="231" y="734"/><use href="#p" x="469" y="677"/><use href="#p" x="706" y="596"/><use href="#p" x="944" y="557"/><use href="#p" x="1182" y="505"/><use href="#p" x="231" y="700"/><use href="#p" x="469" y="583"/><use href="#p" x="706" y="491"/><use href="#p" x="944" y="411"/><use href="#p" x="1182" y="376"/><use href="#p" x="231" y="730"/><use href="#p" x="469" y="695"/><use href="#p" x="706" y="517"/><use href="#p" x="944" y="404"/><use href="#p" x="1182" y="382"/><use href="#p" x="231" y="698"/><use href="#p" x="469" y="639"/><use href="#p" x="706" y="573"/><use href="#p" x="944" y="528"/><use href="#p" x="1182" y="479"/><use href="#p" x="231" y="741"/><use href="#p" x="469" y="629"/><use href="#p" x="706" y="557"/><use href="#p" x="944" y="460"/><use href="#p" x="1182" y="400"/><use href="#p" x="231" y="746"/><use href="#p" x="469" y="699"/><use href="#p" x="706" y="621"/><use href="#p" x="944" y="562"/><use href="#p" x="1182" y="447"/><use href="#p" x="231" y="751"/><use href="#p" x="469" y="704"/><use href="#p" x="706" y="601"/><use href="#p" x="944" y="511"/><use href="#p" x="1182" y="438"/><use href="#p" x="231" y="703"/><use href="#p" x="469" y="656"/><use href="#p" x="706" y="581"/><use href="#p" x="944" y="514"/><use href="#p" x="1182" y="468"/><use href="#p" x="231" y="697"/><use href="#p" x="469" y="621"/><use href="#p" x="706" y="563"/><use href="#p" x="944" y="533"/><use href="#p" x="1182" y="449"/><use href="#p" x="231" y="748"/><use href="#p" x="469" y="702"/><use href="#p" x="706" y="588"/><use href="#p" x="944" y="555"/><use href="#p" x="1182" y="493"/><use href="#p" x="231" y="564"/><use href="#p" x="469" y="376"/><use href="#p" x="706" y="250"/><use href="#p" x="944" y="258"/><use href="#p" x="1182" y="241"/><use href="#p" x="231" y="733"/><use href="#p" x="469" y="704"/><use href="#p" x="706" y="657"/><use href="#p" x="944" y="606"/><use href="#p" x="1182" y="547"/><use href="#p" x="231" y="710"/><use href="#p" x="469" y="672"/><use href="#p" x="706" y="625"/><use href="#p" x="944" y="506"/><use href="#p" x="1182" y="489"/><use href="#p" x="231" y="729"/><use href="#p" x="469" y="666"/><use href="#p" x="706" y="438"/><use href="#p" x="944" y="297"/><use href="#p" x="1182" y="86"/><use href="#p" x="231" y="779"/><use href="#p" x="469" y="698"/><use href="#p" x="706" y="551"/><use href="#p" x="944" y="523"/><use href="#p" x="1182" y="416"/><use href="#p" x="231" y="807"/><use href="#p" x="469" y="761"/><use href="#p" x="706" y="651"/><use href="#p" x="944" y="601"/><use href="#p" x="1182" y="540"/><use href="#p" x="231" y="737"/><use href="#p" x="469" y="685"/><use href="#p" x="706" y="609"/><use href="#p" x="944" y="472"/><use href="#p" x="1182" y="427"/><use href="#p" x="231" y="621"/><use href="#p" x="469" y="510"/><use href="#p" x="706" y="390"/><use href="#p" x="944" y="340"/><use href="#p" x="1182" y="220"/><use href="#p" x="231" y="747"/><use href="#p" x="469" y="703"/><use href="#p" x="706" y="612"/><use href="#p" x="944" y="491"/><use href="#p" x="1182" y="451"/><use href="#p" x="231" y="738"/><use href="#p" x="469" y="694"/><use href="#p" x="706" y="638"/><use href="#p" x="944" y="586"/><use href="#p" x="1182" y="393"/><use href="#p" x="231" y="776"/><use href="#p" x="469" y="747"/><use href="#p" x="706" y="673"/><use href="#p" x="944" y="522"/><use href="#p" x="1182" y="454"/><use href="#p" x="231" y="701"/><use href="#p" x="469" y="613"/><use href="#p" x="706" y="408"/><use href="#p" x="944" y="324"/><use href="#p" x="1182" y="315"/><use href="#p" x="231" y="752"/><use href="#p" x="469" y="677"/><use href="#p" x="706" y="616"/><use href="#p" x="944" y="554"/><use href="#p" x="1182" y="515"/><use href="#p" x="231" y="745"/><use href="#p" x="469" y="662"/><use href="#p" x="706" y="519"/><use href="#p" x="944" y="349"/><use href="#p" x="1182" y="321"/><use href="#p" x="231" y="705"/><use href="#p" x="469" y="664"/><use href="#p" x="706" y="596"/><use href="#p" x="944" y="526"/><use href="#p" x="1182" y="377"/><use href="#p" x="231" y="775"/><use href="#p" x="469" y="705"/><use href="#p" x="706" y="637"/><use href="#p" x="944" y="588"/><use href="#p" x="1182" y="540"/><use href="#p" x="231" y="725"/><use href="#p" x="469" y="627"/><use href="#p" x="706" y="434"/><use href="#p" x="944" y="312"/><use href="#p" x="1182" y="279"/><use href="#p" x="231" y="780"/><use href="#p" x="469" y="709"/><use href="#p" x="706" y="639"/><use href="#p" x="944" y="606"/><use href="#p" x="1182" y="555"/><use href="#p" x="231" y="715"/><use href="#p" x="469" y="628"/><use href="#p" x="706" y="560"/><use href="#p" x="944" y="536"/><use href="#p" x="1182" y="391"/><use href="#p" x="231" y="695"/><use href="#p" x="469" y="578"/><use href="#p" x="706" y="513"/><use href="#p" x="944" y="418"/><use href="#p" x="1182" y="364"/><use href="#p" x="231" y="772"/><use href="#p" x="469" y="733"/><use href="#p" x="706" y="653"/><use href="#p" x="944" y="621"/><use href="#p" x="1182" y="564"/><use href="#p" x="231" y="742"/><use href="#p" x="469" y="712"/><use href="#p" x="706" y="584"/><use href="#p" x="944" y="492"/><use href="#p" x="1182" y="433"/><use href="#p" x="231" y="684"/><use href="#p" x="469" y="602"/><use href="#p" x="706" y="404"/><use href="#p" x="944" y="347"/><use href="#p" x="1182" y="339"/><use href="#p" x="231" y="800"/><use href="#p" x="469" y="745"/><use href="#p" x="706" y="649"/><use href="#p" x="944" y="611"/><use href="#p" x="1182" y="438"/><use href="#p" x="231" y="739"/><use href="#p" x="469" y="643"/><use href="#p" x="706" y="552"/><use href="#p" x="944" y="488"/><use href="#p" x="1182" y="443"/><use href="#p" x="231" y="734"/><use href="#p" x="469" y="679"/><use href="#p" x="706" y="598"/><use href="#p" x="944" y="537"/><use href="#p" x="1182" y="504"/><use href="#p" x="231" y="717"/><use href="#p" x="469" y="658"/><use href="#p" x="706" y="603"/><use href="#p" x="944" y="544"/><use href="#p" x="1182" y="486"/><use href="#p" x="231" y="716"/><use href="#p" x="469" y="678"/><use href="#p" x="706" y="555"/><use href="#p" x="944" y="441"/><use href="#p" x="1182" y="432"/><use href="#p" x="231" y="780"/><use href="#p" x="469" y="752"/><use href="#p" x="706" y="652"/><use href="#p" x="944" y="502"/><use href="#p" x="1182" y="472"/><use href="#p" x="231" y="792"/><use href="#p" x="469" y="727"/><use href="#p" x="706" y="663"/><use href="#p" x="944" y="630"/><use href="#p" x="1182" y="545"/><use href="#p" x="231" y="705"/><use href="#p" x="469" y="594"/><use href="#p" x="706" y="492"/><use href="#p" x="944" y="430"/><use href="#p" x="1182" y="357"/><use href="#p" x="231" y="768"/><use href="#p" x="469" y="741"/><use href="#p" x="706" y="664"/><use href="#p" x="944" y="648"/><use href="#p" x="1182" y="501"/><use href="#p" x="231" y="782"/><use href="#p" x="469" y="713"/><use href="#p" x="706" y="651"/><use href="#p" x="944" y="614"/><use href="#p" x="1182" y="495"/><use href="#p" x="231" y="707"/><use href="#p" x="469" y="574"/><use href="#p" x="706" y="502"/><use href="#p" x="944" y="446"/><use href="#p" x="1182" y="400"/><use href="#p" x="231" y="761"/><use href="#p" x="469" y="724"/><use href="#p" x="706" y="636"/><use href="#p" x="944" y="612"/><use href="#p" x="1182" y="516"/><use href="#p" x="231" y="707"/><use href="#p" x="469" y="659"/><use href="#p" x="706" y="584"/><use href="#p" x="944" y="562"/><use href="#p" x="1182" y="491"/><use href="#p" x="231" y="733"/><use href="#p" x="469" y="626"/><use href="#p" x="706" y="470"/><use href="#p" x="944" y="411"/><use href="#p" x="1182" y="390"/><use href="#p" x="231" y="737"/><use href="#p" x="469" y="690"/><use href="#p" x="706" y="600"/><use href="#p" x="944" y="575"/><use href="#p" x="1182" y="525"/><use href="#p" x="231" y="716"/><use href="#p" x="469" y="659"/><use href="#p" x="706" y="580"/><use href="#p" x="944" y="549"/><use href="#p" x="1182" y="497"/><use href="#p" x="231" y="773"/><use href="#p" x="469" y="741"/><use href="#p" x="706" y="690"/><use href="#p" x="944" y="632"/><use href="#p" x="1182" y="557"/><use href="#p" x="231" y="753"/><use href="#p" x="469" y="698"/><use href="#p" x="706" y="643"/><use href="#p" x="944" y="554"/><use href="#p" x="1182" y="503"/><use href="#p" x="231" y="700"/><use href="#p" x="469" y="615"/><use href="#p" x="706" y="548"/><use href="#p" x="944" y="466"/><use href="#p" x="1182" y="391"/><use href="#p" x="231" y="743"/><use href="#p" x="469" y="586"/><use href="#p" x="706" y="473"/><use href="#p" x="944" y="452"/><use href="#p" x="1182" y="383"/><use href="#p" x="231" y="678"/><use href="#p" x="469" y="587"/><use href="#p" x="706" y="496"/><use href="#p" x="944" y="366"/><use href="#p" x="1182" y="357"/><use href="#p" x="231" y="758"/><use href="#p" x="469" y="734"/><use href="#p" x="706" y="569"/><use href="#p" x="944" y="533"/><use href="#p" x="1182" y="509"/><use href="#p" x="231" y="707"/><use href="#p" x="469" y="669"/><use href="#p" x="706" y="585"/><use href="#p" x="944" y="524"/><use href="#p" x="1182" y="462"/><use href="#p" x="231" y="827"/><use href="#p" x="469" y="770"/><use href="#p" x="706" y="632"/><use href="#p" x="944" y="607"/><use href="#p" x="1182" y="494"/><use href="#p" x="231" y="667"/><use href="#p" x="469" y="553"/><use href="#p" x="706" y="379"/><use href="#p" x="944" y="335"/><use href="#p" x="1182" y="322"/><use href="#p" x="231" y="744"/><use href="#p" x="469" y="524"/><use href="#p" x="706" y="392"/><use href="#p" x="944" y="338"/><use href="#p" x="1182" y="329"/><use href="#p" x="231" y="719"/><use href="#p" x="469" y="651"/><use href="#p" x="706" y="592"/><use href="#p" x="944" y="471"/><use href="#p" x="1182" y="380"/><use href="#p" x="231" y="802"/><use href="#p" x="469" y="757"/><use href="#p" x="706" y="696"/><use href="#p" x="944" y="644"/><use href="#p" x="1182" y="577"/><use href="#p" x="231" y="680"/><use href="#p" x="469" y="581"/><use href="#p" x="706" y="268"/><use href="#p" x="944" y="206"/><use href="#p" x="1182" y="187"/><use href="#p" x="231" y="721"/><use href="#p" x="469" y="623"/><use href="#p" x="706" y="455"/><use href="#p" x="944" y="435"/><use href="#p" x="1182" y="374"/><use href="#p" x="231" y="694"/><use href="#p" x="469" y="622"/><use href="#p" x="706" y="385"/><use href="#p" x="944" y="359"/><use href="#p" x="1182" y="351"/><use href="#p" x="231" y="763"/><use href="#p" x="469" y="595"/><use href="#p" x="706" y="532"/><use href="#p" x="944" y="436"/><use href="#p" x="1182" y="428"/><use href="#p" x="231" y="713"/><use href="#p" x="469" y="618"/><use href="#p" x="706" y="562"/><use href="#p" x="944" y="511"/><use href="#p" x="1182" y="481"/><use href="#p" x="231" y="663"/><use href="#p" x="469" y="512"/><use href="#p" x="706" y="387"/><use href="#p" x="944" y="376"/><use href="#p" x="1182" y="328"/><use href="#p" x="231" y="710"/><use href="#p" x="469" y="650"/><use href="#p" x="706" y="512"/><use href="#p" x="944" y="455"/><use href="#p" x="1182" y="435"/><use href="#p" x="231" y="784"/><use href="#p" x="469" y="748"/><use href="#p" x="706" y="655"/><use href="#p" x="944" y="618"/><use href="#p" x="1182" y="531"/><use href="#p" x="231" y="679"/><use href="#p" x="469" y="584"/><use href="#p" x="706" y="501"/><use href="#p" x="944" y="480"/><use href="#p" x="1182" y="466"/><use href="#p" x="231" y="796"/><use href="#p" x="469" y="748"/><use href="#p" x="706" y="709"/><use href="#p" x="944" y="687"/><use href="#p" x="1182" y="592"/><use href="#p" x="231" y="687"/><use href="#p" x="469" y="570"/><use href="#p" x="706" y="406"/><use href="#p" x="944" y="375"/><use href="#p" x="1182" y="366"/><use href="#p" x="231" y="729"/><use href="#p" x="469" y="620"/><use href="#p" x="706" y="568"/><use href="#p" x="944" y="524"/><use href="#p" x="1182" y="441"/><use href="#p" x="231" y="712"/><use href="#p" x="469" y="674"/><use href="#p" x="706" y="623"/><use href="#p" x="944" y="547"/><use href="#p" x="1182" y="500"/><use href="#p" x="231" y="726"/><use href="#p" x="469" y="684"/><use href="#p" x="706" y="621"/><use href="#p" x="944" y="509"/><use href="#p" x="1182" y="481"/><use href="#p" x="231" y="731"/><use href="#p" x="469" y="630"/><use href="#p" x="706" y="578"/><use href="#p" x="944" y="509"/><use href="#p" x="1182" y="459"/><use href="#p" x="231" y="708"/><use href="#p" x="469" y="649"/><use href="#p" x="706" y="589"/><use href="#p" x="944" y="540"/><use href="#p" x="1182" y="489"/><use href="#p" x="231" y="718"/><use href="#p" x="469" y="640"/><use href="#p" x="706" y="576"/><use href="#p" x="944" y="527"/><use href="#p" x="1182" y="467"/><use href="#p" x="231" y="796"/><use href="#p" x="469" y="762"/><use href="#p" x="706" y="687"/><use href="#p" x="944" y="673"/><use href="#p" x="1182" y="502"/><use href="#p" x="231" y="735"/><use href="#p" x="469" y="709"/><use href="#p" x="706" y="635"/><use href="#p" x="944" y="594"/><use href="#p" x="1182" y="546"/><use href="#p" x="231" y="728"/><use href="#p" x="469" y="588"/><use href="#p" x="706" y="410"/><use href="#p" x="944" y="381"/><use href="#p" x="1182" y="373"/><use href="#p" x="231" y="782"/><use href="#p" x="469" y="729"/><use href="#p" x="706" y="642"/><use href="#p" x="944" y="531"/><use href="#p" x="1182" y="445"/><use href="#p" x="231" y="749"/><use href="#p" x="469" y="717"/><use href="#p" x="706" y="659"/><use href="#p" x="944" y="553"/><use href="#p" x="1182" y="512"/><use href="#p" x="231" y="747"/><use href="#p" x="469" y="637"/><use href="#p" x="706" y="574"/><use href="#p" x="944" y="551"/><use href="#p" x="1182" y="439"/><use href="#p" x="231" y="724"/><use href="#p" x="469" y="668"/><use href="#p" x="706" y="515"/><use href="#p" x="944" y="461"/><use href="#p" x="1182" y="453"/><use href="#p" x="231" y="678"/><use href="#p" x="469" y="576"/><use href="#p" x="706" y="431"/><use href="#p" x="944" y="384"/><use href="#p" x="1182" y="368"/><use href="#p" x="231" y="724"/><use href="#p" x="469" y="682"/><use href="#p" x="706" y="448"/><use href="#p" x="944" y="352"/><use href="#p" x="1182" y="341"/><use href="#p" x="231" y="715"/><use href="#p" x="469" y="554"/><use href="#p" x="706" y="451"/><use href="#p" x="944" y="423"/><use href="#p" x="1182" y="405"/><use href="#p" x="231" y="699"/><use href="#p" x="469" y="648"/><use href="#p" x="706" y="592"/><use href="#p" x="944" y="495"/><use href="#p" x="1182" y="417"/><use href="#p" x="231" y="704"/><use href="#p" x="469" y="654"/><use href="#p" x="706" y="567"/><use href="#p" x="944" y="552"/><use href="#p" x="1182" y="482"/><use href="#p" x="231" y="754"/><use href="#p" x="469" y="716"/><use href="#p" x="706" y="628"/><use href="#p" x="944" y="582"/><use href="#p" x="1182" y="500"/><use href="#p" x="231" y="682"/><use href="#p" x="469" y="603"/><use href="#p" x="706" y="556"/><use href="#p" x="944" y="490"/><use href="#p" x="1182" y="392"/><use href="#p" x="231" y="701"/><use href="#p" x="469" y="643"/><use href="#p" x="706" y="586"/><use href="#p" x="944" y="463"/><use href="#p" x="1182" y="455"/><use href="#p" x="231" y="784"/><use href="#p" x="469" y="718"/><use href="#p" x="706" y="488"/><use href="#p" x="944" y="444"/><use href="#p" x="1182" y="401"/><use href="#p" x="231" y="753"/><use href="#p" x="469" y="726"/><use href="#p" x="706" y="653"/><use href="#p" x="944" y="552"/><use href="#p" x="1182" y="504"/><use href="#p" x="231" y="774"/><use href="#p" x="469" y="722"/><use href="#p" x="706" y="676"/><use href="#p" x="944" y="573"/><use href="#p" x="1182" y="498"/><use href="#p" x="231" y="691"/><use href="#p" x="469" y="610"/><use href="#p" x="706" y="436"/><use href="#p" x="944" y="158"/><use href="#p" x="1182" y="150"/><use href="#p" x="231" y="730"/><use href="#p" x="469" y="683"/><use href="#p" x="706" y="601"/><use href="#p" x="944" y="567"/><use href="#p" x="1182" y="401"/><use href="#p" x="231" y="701"/><use href="#p" x="469" y="637"/><use href="#p" x="706" y="486"/><use href="#p" x="944" y="446"/><use href="#p" x="1182" y="338"/><use href="#p" x="231" y="708"/><use href="#p" x="469" y="628"/><use href="#p" x="706" y="534"/><use href="#p" x="944" y="426"/><use href="#p" x="1182" y="381"/><use href="#p" x="231" y="778"/><use href="#p" x="469" y="742"/><use href="#p" x="706" y="624"/><use href="#p" x="944" y="572"/><use href="#p" x="1182" y="528"/><use href="#p" x="231" y="636"/><use href="#p" x="469" y="538"/><use href="#p" x="706" y="437"/><use href="#p" x="944" y="325"/><use href="#p" x="1182" y="317"/><use href="#p" x="231" y="679"/><use href="#p" x="469" y="602"/><use href="#p" x="706" y="550"/><use href="#p" x="944" y="520"/><use href="#p" x="1182" y="470"/><use href="#p" x="231" y="766"/><use href="#p" x="469" y="713"/><use href="#p" x="706" y="630"/><use href="#p" x="944" y="457"/><use href="#p" x="1182" y="274"/><use href="#p" x="231" y="781"/><use href="#p" x="469" y="710"/><use href="#p" x="706" y="654"/><use href="#p" x="944" y="626"/><use href="#p" x="1182" y="515"/><use href="#p" x="231" y="758"/><use href="#p" x="469" y="645"/><use href="#p" x="706" y="454"/><use href="#p" x="944" y="415"/><use href="#p" x="1182" y="131"/><use href="#p" x="231" y="705"/><use href="#p" x="469" y="648"/><use href="#p" x="706" y="426"/><use href="#p" x="944" y="343"/><use href="#p" x="1182" y="204"/><use href="#p" x="231" y="697"/><use href="#p" x="469" y="608"/><use href="#p" x="706" y="559"/><use href="#p" x="944" y="501"/><use href="#p" x="1182" y="409"/><use href="#p" x="231" y="739"/><use href="#p" x="469" y="697"/><use href="#p" x="706" y="561"/><use href="#p" x="944" y="414"/><use href="#p" x="1182" y="406"/><use href="#p" x="231" y="771"/><use href="#p" x="469" y="708"/><use href="#p" x="706" y="633"/><use href="#p" x="944" y="600"/><use href="#p" x="1182" y="525"/><use href="#p" x="231" y="754"/><use href="#p" x="469" y="708"/><use href="#p" x="706" y="593"/><use href="#p" x="944" y="482"/><use href="#p" x="1182" y="408"/><use href="#p" x="231" y="726"/><use href="#p" x="469" y="616"/><use href="#p" x="706" y="569"/><use href="#p" x="944" y="486"/><use href="#p" x="1182" y="463"/><use href="#p" x="231" y="733"/><use href="#p" x="469" y="653"/><use href="#p" x="706" y="453"/><use href="#p" x="944" y="412"/><use href="#p" x="1182" y="398"/><use href="#p" x="231" y="690"/><use href="#p" x="469" y="596"/><use href="#p" x="706" y="521"/><use href="#p" x="944" y="472"/><use href="#p" x="1182" y="458"/><use href="#p" x="231" y="760"/><use href="#p" x="469" y="714"/><use href="#p" x="706" y="616"/><use href="#p" x="944" y="539"/><use href="#p" x="1182" y="505"/><use href="#p" x="231" y="769"/><use href="#p" x="469" y="725"/><use href="#p" x="706" y="633"/><use href="#p" x="944" y="535"/><use href="#p" x="1182" y="469"/><use href="#p" x="231" y="717"/><use href="#p" x="469" y="632"/><use href="#p" x="706" y="498"/><use href="#p" x="944" y="479"/><use href="#p" x="1182" y="468"/><use href="#p" x="231" y="714"/><use href="#p" x="469" y="647"/><use href="#p" x="706" y="555"/><use href="#p" x="944" y="529"/><use href="#p" x="1182" y="483"/><use href="#p" x="231" y="786"/><use href="#p" x="469" y="737"/><use href="#p" x="706" y="711"/><use href="#p" x="944" y="669"/><use href="#p" x="1182" y="576"/><use href="#p" x="231" y="775"/><use href="#p" x="469" y="749"/><use href="#p" x="706" y="689"/><use href="#p" x="944" y="676"/><use href="#p" x="1182" y="587"/><use href="#p" x="231" y="677"/><use href="#p" x="469" y="569"/><use href="#p" x="706" y="460"/><use href="#p" x="944" y="355"/><use href="#p" x="1182" y="347"/><use href="#p" x="231" y="723"/><use href="#p" x="469" y="672"/><use href="#p" x="706" y="500"/><use href="#p" x="944" y="437"/><use href="#p" x="1182" y="419"/><use href="#p" x="231" y="691"/><use href="#p" x="469" y="590"/><use href="#p" x="706" y="525"/><use href="#p" x="944" y="499"/><use href="#p" x="1182" y="349"/><use href="#p" x="231" y="735"/><use href="#p" x="469" y="695"/><use href="#p" x="706" y="633"/><use href="#p" x="944" y="602"/><use href="#p" x="1182" y="529"/><use href="#p" x="231" y="788"/><use href="#p" x="469" y="740"/><use href="#p" x="706" y="679"/><use href="#p" x="944" y="649"/><use href="#p" x="1182" y="532"/><use href="#p" x="231" y="793"/><use href="#p" x="469" y="759"/><use href="#p" x="706" y="732"/><use href="#p" x="944" y="603"/><use href="#p" x="1182" y="536"/><use href="#p" x="231" y="694"/><use href="#p" x="469" y="642"/><use href="#p" x="706" y="512"/><use href="#p" x="944" y="483"/><use href="#p" x="1182" y="386"/><use href="#p" x="231" y="714"/><use href="#p" x="469" y="670"/><use href="#p" x="706" y="595"/><use href="#p" x="944" y="537"/><use href="#p" x="1182" y="508"/><use href="#p" x="231" y="740"/><use href="#p" x="469" y="720"/><use href="#p" x="706" y="669"/><use href="#p" x="944" y="575"/><use href="#p" x="1182" y="520"/><use href="#p" x="231" y="764"/><use href="#p" x="469" y="688"/><use href="#p" x="706" y="626"/><use href="#p" x="944" y="604"/><use href="#p" x="1182" y="524"/><use href="#p" x="231" y="765"/><use href="#p" x="469" y="699"/><use href="#p" x="706" y="626"/><use href="#p" x="944" y="541"/><use href="#p" x="1182" y="466"/><use href="#p" x="231" y="727"/><use href="#p" x="469" y="534"/><use href="#p" x="706" y="399"/><use href="#p" x="944" y="365"/><use href="#p" x="1182" y="356"/><use href="#p" x="231" y="765"/><use href="#p" x="469" y="666"/><use href="#p" x="706" y="581"/><use href="#p" x="944" y="548"/><use href="#p" x="1182" y="517"/><use href="#p" x="231" y="739"/><use href="#p" x="469" y="691"/><use href="#p" x="706" y="613"/><use href="#p" x="944" y="394"/><use href="#p" x="1182" y="385"/><use href="#p" x="231" y="750"/><use href="#p" x="469" y="614"/><use href="#p" x="706" y="536"/><use href="#p" x="944" y="482"/><use href="#p" x="1182" y="463"/><use href="#p" x="231" y="749"/><use href="#p" x="469" y="714"/><use href="#p" x="706" y="607"/><use href="#p" x="944" y="479"/><use href="#p" x="1182" y="459"/><use href="#p" x="231" y="788"/><use href="#p" x="469" y="707"/><use href="#p" x="706" y="544"/><use href="#p" x="944" y="300"/><use href="#p" x="1182" y="244"/><use href="#p" x="231" y="756"/><use href="#p" x="469" y="712"/><use href="#p" x="706" y="646"/><use href="#p" x="944" y="556"/><use href="#p" x="1182" y="457"/><use href="#p" x="231" y="686"/><use href="#p" x="469" y="535"/><use href="#p" x="706" y="411"/><use href="#p" x="944" y="356"/><use href="#p" x="1182" y="316"/><use href="#p" x="231" y="784"/><use href="#p" x="469" y="756"/><use href="#p" x="706" y="604"/><use href="#p" x="944" y="530"/><use href="#p" x="1182" y="499"/><use href="#p" x="231" y="688"/><use href="#p" x="469" y="625"/><use href="#p" x="706" y="447"/><use href="#p" x="944" y="399"/><use href="#p" x="1182" y="387"/><use href="#p" x="231" y="695"/><use href="#p" x="469" y="599"/><use href="#p" x="706" y="415"/><use href="#p" x="944" y="334"/><use href="#p" x="1182" y="196"/><use href="#p" x="231" y="778"/><use href="#p" x="469" y="747"/><use href="#p" x="706" y="643"/><use href="#p" x="944" y="613"/><use href="#p" x="1182" y="452"/><use href="#p" x="231" y="789"/><use href="#p" x="469" y="745"/><use href="#p" x="706" y="608"/><use href="#p" x="944" y="570"/><use href="#p" x="1182" y="511"/><use href="#p" x="231" y="757"/><use href="#p" x="469" y="685"/><use href="#p" x="706" y="627"/><use href="#p" x="944" y="608"/><use href="#p" x="1182" y="541"/><use href="#p" x="231" y="714"/><use href="#p" x="469" y="609"/><use href="#p" x="706" y="472"/><use href="#p" x="944" y="348"/><use href="#p" x="1182" y="339"/><use href="#p" x="231" y="744"/><use href="#p" x="469" y="640"/><use href="#p" x="706" y="469"/><use href="#p" x="944" y="455"/><use href="#p" x="1182" y="362"/><use href="#p" x="231" y="772"/><use href="#p" x="469" y="744"/><use href="#p" x="706" y="635"/><use href="#p" x="944" y="593"/><use href="#p" x="1182" y="532"/><use href="#p" x="231" y="681"/><use href="#p" x="469" y="616"/><use href="#p" x="706" y="476"/><use href="#p" x="944" y="444"/><use href="#p" x="1182" y="418"/><use href="#p" x="231" y="791"/><use href="#p" x="469" y="740"/><use href="#p" x="706" y="671"/><use href="#p" x="944" y="643"/><use href="#p" x="1182" y="584"/><use href="#p" x="231" y="745"/><use href="#p" x="469" y="705"/><use href="#p" x="706" y="660"/><use href="#p" x="944" y="582"/><use href="#p" x="1182" y="485"/><use href="#p" x="231" y="710"/><use href="#p" x="469" y="656"/><use href="#p" x="706" y="579"/><use href="#p" x="944" y="523"/><use href="#p" x="1182" y="487"/><use href="#p" x="231" y="748"/><use href="#p" x="469" y="711"/><use href="#p" x="706" y="612"/><use href="#p" x="944" y="579"/><use href="#p" x="1182" y="429"/><use href="#p" x="231" y="719"/><use href="#p" x="469" y="647"/><use href="#p" x="706" y="590"/><use href="#p" x="944" y="522"/><use href="#p" x="1182" y="434"/><use href="#p" x="231" y="731"/><use href="#p" x="469" y="681"/><use href="#p" x="706" y="606"/><use href="#p" x="944" y="589"/><use href="#p" x="1182" y="521"/><use href="#p" x="231" y="776"/><use href="#p" x="469" y="630"/><use href="#p" x="706" y="550"/><use href="#p" x="944" y="471"/><use href="#p" x="1182" y="422"/><use href="#p" x="231" y="700"/><use href="#p" x="469" y="600"/><use href="#p" x="706" y="528"/><use href="#p" x="944" y="467"/><use href="#p" x="1182" y="436"/><use href="#p" x="231" y="703"/><use href="#p" x="469" y="583"/><use href="#p" x="706" y="464"/><use href="#p" x="944" y="395"/><use href="#p" x="1182" y="386"/><use href="#p" x="231" y="718"/><use href="#p" x="469" y="566"/><use href="#p" x="706" y="480"/><use href="#p" x="944" y="459"/><use href="#p" x="1182" y="367"/><use href="#p" x="231" y="772"/><use href="#p" x="469" y="742"/><use href="#p" x="706" y="716"/><use href="#p" x="944" y="624"/><use href="#p" x="1182" y="554"/><use href="#p" x="231" y="716"/><use href="#p" x="469" y="627"/><use href="#p" x="706" y="558"/><use href="#p" x="944" y="416"/><use href="#p" x="1182" y="344"/><use href="#p" x="231" y="659"/><use href="#p" x="469" y="428"/><use href="#p" x="706" y="240"/><use href="#p" x="944" y="220"/><use href="#p" x="1182" y="200"/><use href="#p" x="231" y="745"/><use href="#p" x="469" y="722"/><use href="#p" x="706" y="678"/><use href="#p" x="944" y="661"/><use href="#p" x="1182" y="586"/><use href="#p" x="231" y="724"/><use href="#p" x="469" y="687"/><use href="#p" x="706" y="619"/><use href="#p" x="944" y="566"/><use href="#p" x="1182" y="512"/><use href="#p" x="231" y="718"/><use href="#p" x="469" y="612"/><use href="#p" x="706" y="510"/><use href="#p" x="944" y="403"/><use href="#p" x="1182" y="395"/><use href="#p" x="231" y="768"/><use href="#p" x="469" y="744"/><use href="#p" x="706" y="656"/><use href="#p" x="944" y="623"/><use href="#p" x="1182" y="492"/><use href="#p" x="231" y="706"/><use href="#p" x="469" y="657"/><use href="#p" x="706" y="504"/><use href="#p" x="944" y="468"/><use href="#p" x="1182" y="426"/><use href="#p" x="231" y="774"/><use href="#p" x="469" y="711"/><use href="#p" x="706" y="645"/><use href="#p" x="944" y="566"/><use href="#p" x="1182" y="473"/><use href="#p" x="231" y="771"/><use href="#p" x="469" y="736"/><use href="#p" x="706" y="667"/><use href="#p" x="944" y="393"/><use href="#p" x="1182" y="354"/><use href="#p" x="231" y="746"/><use href="#p" x="469" y="687"/><use href="#p" x="706" y="615"/><use href="#p" x="944" y="576"/><use href="#p" x="1182" y="527"/><use href="#p" x="231" y="758"/><use href="#p" x="469" y="720"/><use href="#p" x="706" y="654"/><use href="#p" x="944" y="574"/><use href="#p" x="1182" y="348"/><use href="#p" x="231" y="755"/><use href="#p" x="469" y="736"/><use href="#p" x="706" y="662"/><use href="#p" x="944" y="653"/><use href="#p" x="1182" y="583"/><use href="#p" x="231" y="750"/><use href="#p" x="469" y="721"/><use href="#p" x="706" y="660"/><use href="#p" x="944" y="596"/><use href="#p" x="1182" y="506"/><use href="#p" x="231" y="695"/><use href="#p" x="469" y="547"/><use href="#p" x="706" y="441"/><use href="#p" x="944" y="431"/><use href="#p" x="1182" y="400"/><use href="#p" x="231" y="735"/><use href="#p" x="469" y="676"/><use href="#p" x="706" y="590"/><use href="#p" x="944" y="516"/><use href="#p" x="1182" y="491"/><use href="#p" x="231" y="728"/><use href="#p" x="469" y="657"/><use href="#p" x="706" y="587"/><use href="#p" x="944" y="561"/><use href="#p" x="1182" y="440"/><use href="#p" x="231" y="792"/><use href="#p" x="469" y="735"/><use href="#p" x="706" y="684"/><use href="#p" x="944" y="642"/><use href="#p" x="1182" y="558"/><use href="#p" x="231" y="699"/><use href="#p" x="469" y="533"/><use href="#p" x="706" y="439"/><use href="#p" x="944" y="401"/><use href="#p" x="1182" y="349"/><use href="#p" x="231" y="709"/><use href="#p" x="469" y="635"/><use href="#p" x="706" y="556"/><use href="#p" x="944" y="519"/><use href="#p" x="1182" y="485"/><use href="#p" x="231" y="727"/><use href="#p" x="469" y="641"/><use href="#p" x="706" y="497"/><use href="#p" x="944" y="424"/><use href="#p" x="1182" y="363"/><use href="#p" x="231" y="690"/><use href="#p" x="469" y="559"/><use href="#p" x="706" y="395"/><use href="#p" x="944" y="330"/><use href="#p" x="1182" y="92"/><use href="#p" x="231" y="741"/><use href="#p" x="469" y="629"/><use href="#p" x="706" y="511"/><use href="#p" x="944" y="429"/><use href="#p" x="1182" y="416"/><use href="#p" x="231" y="760"/><use href="#p" x="469" y="719"/><use href="#p" x="706" y="672"/><use href="#p" x="944" y="620"/><use href="#p" x="1182" y="445"/><use href="#p" x="231" y="731"/><use href="#p" x="469" y="678"/><use href="#p" x="706" y="571"/><use href="#p" x="944" y="521"/><use href="#p" x="1182" y="501"/><use href="#p" x="231" y="664"/><use href="#p" x="469" y="589"/><use href="#p" x="706" y="384"/><use href="#p" x="944" y="372"/><use href="#p" x="1182" y="299"/><use href="#p" x="231" y="737"/><use href="#p" x="469" y="614"/><use href="#p" x="706" y="526"/><use href="#p" x="944" y="508"/><use href="#p" x="1182" y="448"/><use href="#p" x="231" y="696"/><use href="#p" x="469" y="620"/><use href="#p" x="706" y="510"/><use href="#p" x="944" y="465"/><use href="#p" x="1182" y="396"/><use href="#p" x="231" y="723"/><use href="#p" x="469" y="683"/><use href="#p" x="706" y="614"/><use href="#p" x="944" y="549"/><use href="#p" x="1182" y="499"/><use href="#p" x="231" y="709"/><use href="#p" x="469" y="605"/><use href="#p" x="706" y="423"/><use href="#p" x="944" y="390"/><use href="#p" x="1182" y="350"/><use href="#p" x="231" y="783"/><use href="#p" x="469" y="722"/><use href="#p" x="706" y="629"/><use href="#p" x="944" y="519"/><use href="#p" x="1182" y="444"/><use href="#p" x="231" y="708"/><use href="#p" x="469" y="647"/><use href="#p" x="706" y="548"/><use href="#p" x="944" y="528"/><use href="#p" x="1182" y="423"/><use href="#p" x="231" y="725"/><use href="#p" x="469" y="686"/><use href="#p" x="706" y="563"/><use href="#p" x="944" y="460"/><use href="#p" x="1182" y="289"/><use href="#p" x="231" y="782"/><use href="#p" x="469" y="717"/><use href="#p" x="706" y="638"/><use href="#p" x="944" y="478"/><use href="#p" x="1182" y="448"/><use href="#p" x="231" y="701"/><use href="#p" x="469" y="660"/><use href="#p" x="706" y="574"/><use href="#p" x="944" y="503"/><use href="#p" x="1182" y="476"/><use href="#p" x="231" y="720"/><use href="#p" x="469" y="568"/><use href="#p" x="706" y="462"/><use href="#p" x="944" y="428"/><use href="#p" x="1182" y="416"/><use href="#p" x="231" y="770"/><use href="#p" x="469" y="698"/><use href="#p" x="706" y="639"/><use href="#p" x="944" y="527"/><use href="#p" x="1182" y="437"/><use href="#p" x="231" y="746"/><use href="#p" x="469" y="704"/><use href="#p" x="706" y="613"/><use href="#p" x="944" y="597"/><use href="#p" x="1182" y="513"/><use href="#p" x="231" y="729"/><use href="#p" x="469" y="652"/><use href="#p" x="706" y="576"/><use href="#p" x="944" y="517"/><use href="#p" x="1182" y="481"/><use href="#p" x="231" y="746"/><use href="#p" x="469" y="703"/><use href="#p" x="706" y="624"/><use href="#p" x="944" y="560"/><use href="#p" x="1182" y="293"/><use href="#p" x="231" y="757"/><use href="#p" x="469" y="737"/><use href="#p" x="706" y="699"/><use href="#p" x="944" y="637"/><use href="#p" x="1182" y="444"/><use href="#p" x="231" y="666"/><use href="#p" x="469" y="578"/><use href="#p" x="706" y="489"/><use href="#p" x="944" y="269"/><use href="#p" x="1182" y="247"/><use href="#p" x="231" y="712"/><use href="#p" x="469" y="558"/><use href="#p" x="706" y="433"/><use href="#p" x="944" y="368"/><use href="#p" x="1182" y="297"/><use href="#p" x="231" y="717"/><use href="#p" x="469" y="592"/><use href="#p" x="706" y="484"/><use href="#p" x="944" y="456"/><use href="#p" x="1182" y="434"/><use href="#p" x="231" y="685"/><use href="#p" x="469" y="557"/><use href="#p" x="706" y="413"/><use href="#p" x="944" y="395"/><use href="#p" x="1182" y="387"/><use href="#p" x="231" y="686"/><use href="#p" x="469" y="492"/><use href="#p" x="706" y="394"/><use href="#p" x="944" y="380"/><use href="#p" x="1182" y="372"/><use href="#p" x="231" y="683"/><use href="#p" x="469" y="590"/><use href="#p" x="706" y="508"/><use href="#p" x="944" y="486"/><use href="#p" x="1182" y="418"/><use href="#p" x="231" y="764"/><use href="#p" x="469" y="732"/><use href="#p" x="706" y="641"/><use href="#p" x="944" y="581"/><use href="#p" x="1182" y="493"/><use href="#p" x="231" y="780"/><use href="#p" x="469" y="735"/><use href="#p" x="706" y="648"/><use href="#p" x="944" y="469"/><use href="#p" x="1182" y="442"/><use href="#p" x="231" y="767"/><use href="#p" x="469" y="749"/><use href="#p" x="706" y="682"/><use href="#p" x="944" y="634"/><use href="#p" x="1182" y="560"/><use href="#p" x="231" y="671"/><use href="#p" x="469" y="548"/><use href="#p" x="706" y="446"/><use href="#p" x="944" y="419"/><use href="#p" x="1182" y="406"/><use href="#p" x="231" y="675"/><use href="#p" x="469" y="580"/><use href="#p" x="706" y="465"/><use href="#p" x="944" y="413"/><use href="#p" x="1182" y="405"/><use href="#p" x="231" y="779"/><use href="#p" x="469" y="699"/><use href="#p" x="706" y="647"/><use href="#p" x="944" y="584"/><use href="#p" x="1182" y="475"/><use href="#p" x="231" y="673"/><use href="#p" x="469" y="517"/><use href="#p" x="706" y="381"/><use href="#p" x="944" y="370"/><use href="#p" x="1182" y="362"/><use href="#p" x="231" y="720"/><use href="#p" x="469" y="682"/><use href="#p" x="706" y="617"/><use href="#p" x="944" y="563"/><use href="#p" x="1182" y="509"/><use href="#p" x="231" y="700"/><use href="#p" x="469" y="661"/><use href="#p" x="706" y="533"/><use href="#p" x="944" y="425"/><use href="#p" x="1182" y="389"/><use href="#p" x="231" y="719"/><use href="#p" x="469" y="581"/><use href="#p" x="706" y="482"/><use href="#p" x="944" y="398"/><use href="#p" x="1182" y="376"/><use href="#p" x="231" y="735"/><use href="#p" x="469" y="677"/><use href="#p" x="706" y="582"/><use href="#p" x="944" y="553"/><use href="#p" x="1182" y="457"/><use href="#p" x="231" y="730"/><use href="#p" x="469" y="664"/><use href="#p" x="706" y="573"/><use href="#p" x="944" y="459"/><use href="#p" x="1182" y="410"/><use href="#p" x="231" y="676"/><use href="#p" x="469" y="567"/><use href="#p" x="706" y="471"/><use href="#p" x="944" y="367"/><use href="#p" x="1182" y="212"/><use href="#p" x="231" y="730"/><use href="#p" x="469" y="633"/><use href="#p" x="706" y="575"/><use href="#p" x="944" y="487"/><use href="#p" x="1182" y="403"/><use href="#p" x="231" y="723"/><use href="#p" x="469" y="604"/><use href="#p" x="706" y="533"/><use href="#p" x="944" y="439"/><use href="#p" x="1182" y="412"/><use href="#p" x="231" y="713"/><use href="#p" x="469" y="596"/><use href="#p" x="706" y="503"/><use href="#p" x="944" y="483"/><use href="#p" x="1182" y="446"/><use href="#p" x="231" y="727"/><use href="#p" x="469" y="680"/><use href="#p" x="706" y="588"/><use href="#p" x="944" y="538"/><use href="#p" x="1182" y="510"/><use href="#p" x="231" y="587"/><use href="#p" x="469" y="432"/><use href="#p" x="706" y="364"/><use href="#p" x="944" y="314"/><use href="#p" x="1182" y="305"/><use href="#p" x="231" y="773"/><use href="#p" x="469" y="641"/><use href="#p" x="706" y="597"/><use href="#p" x="944" y="542"/><use href="#p" x="1182" y="497"/><use href="#p" x="231" y="813"/><use href="#p" x="469" y="767"/><use href="#p" x="706" y="664"/><use href="#p" x="944" y="585"/><use href="#p" x="1182" y="519"/><use href="#p" x="231" y="722"/><use href="#p" x="469" y="651"/><use href="#p" x="706" y="577"/><use href="#p" x="944" y="426"/><use href="#p" x="1182" y="276"/><use href="#p" x="231" y="685"/><use href="#p" x="469" y="478"/><use href="#p" x="706" y="360"/><use href="#p" x="944" y="331"/><use href="#p" x="1182" y="323"/><use href="#p" x="231" y="684"/><use href="#p" x="469" y="604"/><use href="#p" x="706" y="542"/><use href="#p" x="944" y="500"/><use href="#p" x="1182" y="389"/><use href="#p" x="231" y="690"/><use href="#p" x="469" y="576"/><use href="#p" x="706" y="456"/><use href="#p" x="944" y="363"/><use href="#p" x="1182" y="355"/><use href="#p" x="231" y="780"/><use href="#p" x="469" y="750"/><use href="#p" x="706" y="620"/><use href="#p" x="944" y="473"/><use href="#p" x="1182" y="234"/><use href="#p" x="231" y="749"/><use href="#p" x="469" y="675"/><use href="#p" x="706" y="587"/><use href="#p" x="944" y="485"/><use href="#p" x="1182" y="428"/><use href="#p" x="231" y="698"/><use href="#p" x="469" y="655"/><use href="#p" x="706" y="497"/><use href="#p" x="944" y="453"/><use href="#p" x="1182" y="352"/><use href="#p" x="231" y="753"/><use href="#p" x="469" y="712"/><use href="#p" x="706" y="655"/><use href="#p" x="944" y="609"/><use href="#p" x="1182" y="520"/><use href="#p" x="231" y="748"/><use href="#p" x="469" y="662"/><use href="#p" x="706" y="603"/><use href="#p" x="944" y="585"/><use href="#p" x="1182" y="489"/><use href="#p" x="231" y="746"/><use href="#p" x="469" y="720"/><use href="#p" x="706" y="582"/><use href="#p" x="944" y="494"/><use href="#p" x="1182" y="458"/><use href="#p" x="231" y="772"/><use href="#p" x="469" y="738"/><use href="#p" x="706" y="688"/><use href="#p" x="944" y="647"/><use href="#p" x="1182" y="552"/><use href="#p" x="231" y="704"/><use href="#p" x="469" y="632"/><use href="#p" x="706" y="444"/><use href="#p" x="944" y="402"/><use href="#p" x="1182" y="393"/><use href="#p" x="231" y="776"/><use href="#p" x="469" y="729"/><use href="#p" x="706" y="622"/><use href="#p" x="944" y="587"/><use href="#p" x="1182" y="488"/><use href="#p" x="231" y="725"/><use href="#p" x="469" y="598"/><use href="#p" x="706" y="517"/><use href="#p" x="944" y="453"/><use href="#p" x="1182" y="381"/><use href="#p" x="231" y="769"/><use href="#p" x="469" y="667"/><use href="#p" x="706" y="599"/><use href="#p" x="944" y="550"/><use href="#p" x="1182" y="502"/><use href="#p" x="231" y="745"/><use href="#p" x="469" y="726"/><use href="#p" x="706" y="686"/><use href="#p" x="944" y="639"/><use href="#p" x="1182" y="568"/><use href="#p" x="231" y="790"/><use href="#p" x="469" y="756"/><use href="#p" x="706" y="677"/><use href="#p" x="944" y="664"/><use href="#p" x="1182" y="550"/><use href="#p" x="231" y="729"/><use href="#p" x="469" y="691"/><use href="#p" x="706" y="564"/><use href="#p" x="944" y="534"/><use href="#p" x="1182" y="484"/><use href="#p" x="231" y="786"/><use href="#p" x="469" y="750"/><use href="#p" x="706" y="641"/><use href="#p" x="944" y="546"/><use href="#p" x="1182" y="453"/><use href="#p" x="231" y="647"/><use href="#p" x="469" y="551"/><use href="#p" x="706" y="457"/><use href="#p" x="944" y="386"/><use href="#p" x="1182" y="378"/><use href="#p" x="231" y="715"/><use href="#p" x="469" y="639"/><use href="#p" x="706" y="541"/><use href="#p" x="944" y="478"/><use href="#p" x="1182" y="464"/><use href="#p" x="231" y="793"/><use href="#p" x="469" y="761"/><use href="#p" x="706" y="669"/><use href="#p" x="944" y="638"/><use href="#p" x="1182" y="562"/><use href="#p" x="231" y="710"/><use href="#p" x="469" y="670"/><use href="#p" x="706" y="525"/><use href="#p" x="944" y="465"/><use href="#p" x="1182" y="431"/><use href="#p" x="231" y="698"/><use href="#p" x="469" y="615"/><use href="#p" x="706" y="540"/><use href="#p" x="944" y="515"/><use href="#p" x="1182" y="487"/><use href="#p" x="231" y="688"/><use href="#p" x="469" y="609"/><use href="#p" x="706" y="429"/><use href="#p" x="944" y="400"/><use href="#p" x="1182" y="385"/><use href="#p" x="231" y="660"/><use href="#p" x="469" y="585"/><use href="#p" x="706" y="481"/><use href="#p" x="944" y="377"/><use href="#p" x="1182" y="369"/><use href="#p" x="231" y="718"/><use href="#p" x="469" y="676"/><use href="#p" x="706" y="625"/><use href="#p" x="944" y="581"/><use href="#p" x="1182" y="358"/><use href="#p" x="231" y="687"/><use href="#p" x="469" y="594"/><use href="#p" x="706" y="397"/><use href="#p" x="944" y="304"/><use href="#p" x="1182" y="283"/><use href="#p" x="231" y="767"/><use href="#p" x="469" y="731"/><use href="#p" x="706" y="673"/><use href="#p" x="944" y="636"/><use href="#p" x="1182" y="352"/><use href="#p" x="231" y="738"/><use href="#p" x="469" y="671"/><use href="#p" x="706" y="542"/><use href="#p" x="944" y="518"/><use href="#p" x="1182" y="470"/><use href="#p" x="231" y="694"/><use href="#p" x="469" y="619"/><use href="#p" x="706" y="459"/><use href="#p" x="944" y="445"/><use href="#p" x="1182" y="433"/><use href="#p" x="231" y="766"/><use href="#p" x="469" y="743"/><use href="#p" x="706" y="650"/><use href="#p" x="944" y="594"/><use href="#p" x="1182" y="421"/><use href="#p" x="231" y="682"/><use href="#p" x="469" y="585"/><use href="#p" x="706" y="403"/><use href="#p" x="944" y="392"/><use href="#p" x="1182" y="384"/><use href="#p" x="231" y="763"/><use href="#p" x="469" y="700"/><use href="#p" x="706" y="591"/><use href="#p" x="944" y="529"/><use href="#p" x="1182" y="484"/><use href="#p" x="231" y="721"/><use href="#p" x="469" y="644"/><use href="#p" x="706" y="567"/><use href="#p" x="944" y="442"/><use href="#p" x="1182" y="429"/><use href="#p" x="231" y="703"/><use href="#p" x="469" y="653"/><use href="#p" x="706" y="414"/><use href="#p" x="944" y="369"/><use href="#p" x="1182" y="361"/><use href="#p" x="231" y="719"/><use href="#p" x="469" y="666"/><use href="#p" x="706" y="618"/><use href="#p" x="944" y="477"/><use href="#p" x="1182" y="373"/><use href="#p" x="231" y="801"/><use href="#p" x="469" y="743"/><use href="#p" x="706" y="495"/><use href="#p" x="944" y="438"/><use href="#p" x="1182" y="424"/><use href="#p" x="231" y="653"/><use href="#p" x="469" y="539"/><use href="#p" x="706" y="371"/><use href="#p" x="944" y="328"/><use href="#p" x="1182" y="320"/><use href="#p" x="231" y="640"/><use href="#p" x="469" y="546"/><use href="#p" x="706" y="430"/><use href="#p" x="944" y="346"/><use href="#p" x="1182" y="335"/><use href="#p" x="231" y="724"/><use href="#p" x="469" y="673"/><use href="#p" x="706" y="604"/><use href="#p" x="944" y="569"/><use href="#p" x="1182" y="411"/><use href="#p" x="231" y="736"/><use href="#p" x="469" y="679"/><use href="#p" x="706" y="575"/><use href="#p" x="944" y="560"/><use href="#p" x="1182" y="513"/><use href="#p" x="231" y="781"/><use href="#p" x="469" y="723"/><use href="#p" x="706" y="540"/><use href="#p" x="944" y="474"/><use href="#p" x="1182" y="446"/><use href="#p" x="231" y="724"/><use href="#p" x="469" y="680"/><use href="#p" x="706" y="614"/><use href="#p" x="944" y="558"/><use href="#p" x="1182" y="460"/><use href="#p" x="231" y="756"/><use href="#p" x="469" y="684"/><use href="#p" x="706" y="593"/><use href="#p" x="944" y="545"/><use href="#p" x="1182" y="496"/><use href="#p" x="231" y="785"/><use href="#p" x="469" y="751"/><use href="#p" x="706" y="609"/><use href="#p" x="944" y="564"/><use href="#p" x="1182" y="522"/><use href="#p" x="231" y="728"/><use href="#p" x="469" y="662"/><use href="#p" x="706" y="583"/><use href="#p" x="944" y="538"/><use href="#p" x="1182" y="380"/><use href="#p" x="231" y="816"/><use href="#p" x="469" y="778"/><use href="#p" x="706" y="741"/><use href="#p" x="944" y="734"/><use href="#p" x="1182" y="575"/><use href="#p" x="231" y="728"/><use href="#p" x="469" y="528"/><use href="#p" x="706" y="393"/><use href="#p" x="944" y="317"/><use href="#p" x="1182" y="267"/><use href="#p" x="231" y="731"/><use href="#p" x="469" y="645"/><use href="#p" x="706" y="585"/><use href="#p" x="944" y="535"/><use href="#p" x="1182" y="506"/><use href="#p" x="231" y="777"/><use href="#p" x="469" y="694"/><use href="#p" x="706" y="596"/><use href="#p" x="944" y="513"/><use href="#p" x="1182" y="457"/><use href="#p" x="231" y="754"/><use href="#p" x="469" y="727"/><use href="#p" x="706" y="668"/><use href="#p" x="944" y="628"/><use href="#p" x="1182" y="566"/><use href="#p" x="231" y="740"/><use href="#p" x="469" y="703"/><use href="#p" x="706" y="566"/><use href="#p" x="944" y="461"/><use href="#p" x="1182" y="440"/><use href="#p" x="231" y="748"/><use href="#p" x="469" y="730"/><use href="#p" x="706" y="608"/><use href="#p" x="944" y="546"/><use href="#p" x="1182" y="468"/><use href="#p" x="231" y="770"/><use href="#p" x="469" y="695"/><use href="#p" x="706" y="570"/><use href="#p" x="944" y="458"/><use href="#p" x="1182" y="442"/><use href="#p" x="231" y="679"/><use href="#p" x="469" y="577"/><use href="#p" x="706" y="449"/><use href="#p" x="944" y="420"/><use href="#p" x="1182" y="402"/><use href="#p" x="231" y="738"/><use href="#p" x="469" y="707"/><use href="#p" x="706" y="602"/><use href="#p" x="944" y="563"/><use href="#p" x="1182" y="438"/></g></g>
<g stroke="#000" stroke-width="2" fill="none"><line x1="93" y1="14.5" x2="93" y2="870"/><line x1="92" y1="869" x2="1329.3" y2="869"/></g>
<g stroke="#333" stroke-width="2"><line x1="235.00" y1="869" x2="235.00" y2="876.5" /><line x1="472.75" y1="869" x2="472.75" y2="876.5" /><line x1="710.50" y1="869" x2="710.50" y2="876.5" /><line x1="948.25" y1="869" x2="948.25" y2="876.5" /><line x1="1186.00" y1="869" x2="1186.00" y2="876.5" /><line x1="85.5" y1="242" x2="93" y2="242" /><line x1="85.5" y1="494" x2="93" y2="494" /><line x1="85.5" y1="746" x2="93" y2="746" /></g>
<g fill="#4d4d4d" font-size="26.4"><text x="235.00" y="904" text-anchor="middle">wt7</text><text x="472.75" y="904" text-anchor="middle">wt9</text><text x="710.50" y="904" text-anchor="middle">wt11</text><text x="948.25" y="904" text-anchor="middle">wt13</text><text x="1186.00" y="904" text-anchor="middle">wt15</text><text x="79.5" y="253" text-anchor="end">75</text><text x="79.5" y="505" text-anchor="end">50</text><text x="79.5" y="757" text-anchor="end">25</text></g>
<g fill="#000" font-size="32"><text x="711.5" y="940" text-anchor="middle" textLength="174" lengthAdjust="spacingAndGlyphs">Age in years</text>
<text transform="translate(39,442.6) rotate(-90)" text-anchor="middle">Weight in kilograms</text></g>
</svg>
</body></html>
